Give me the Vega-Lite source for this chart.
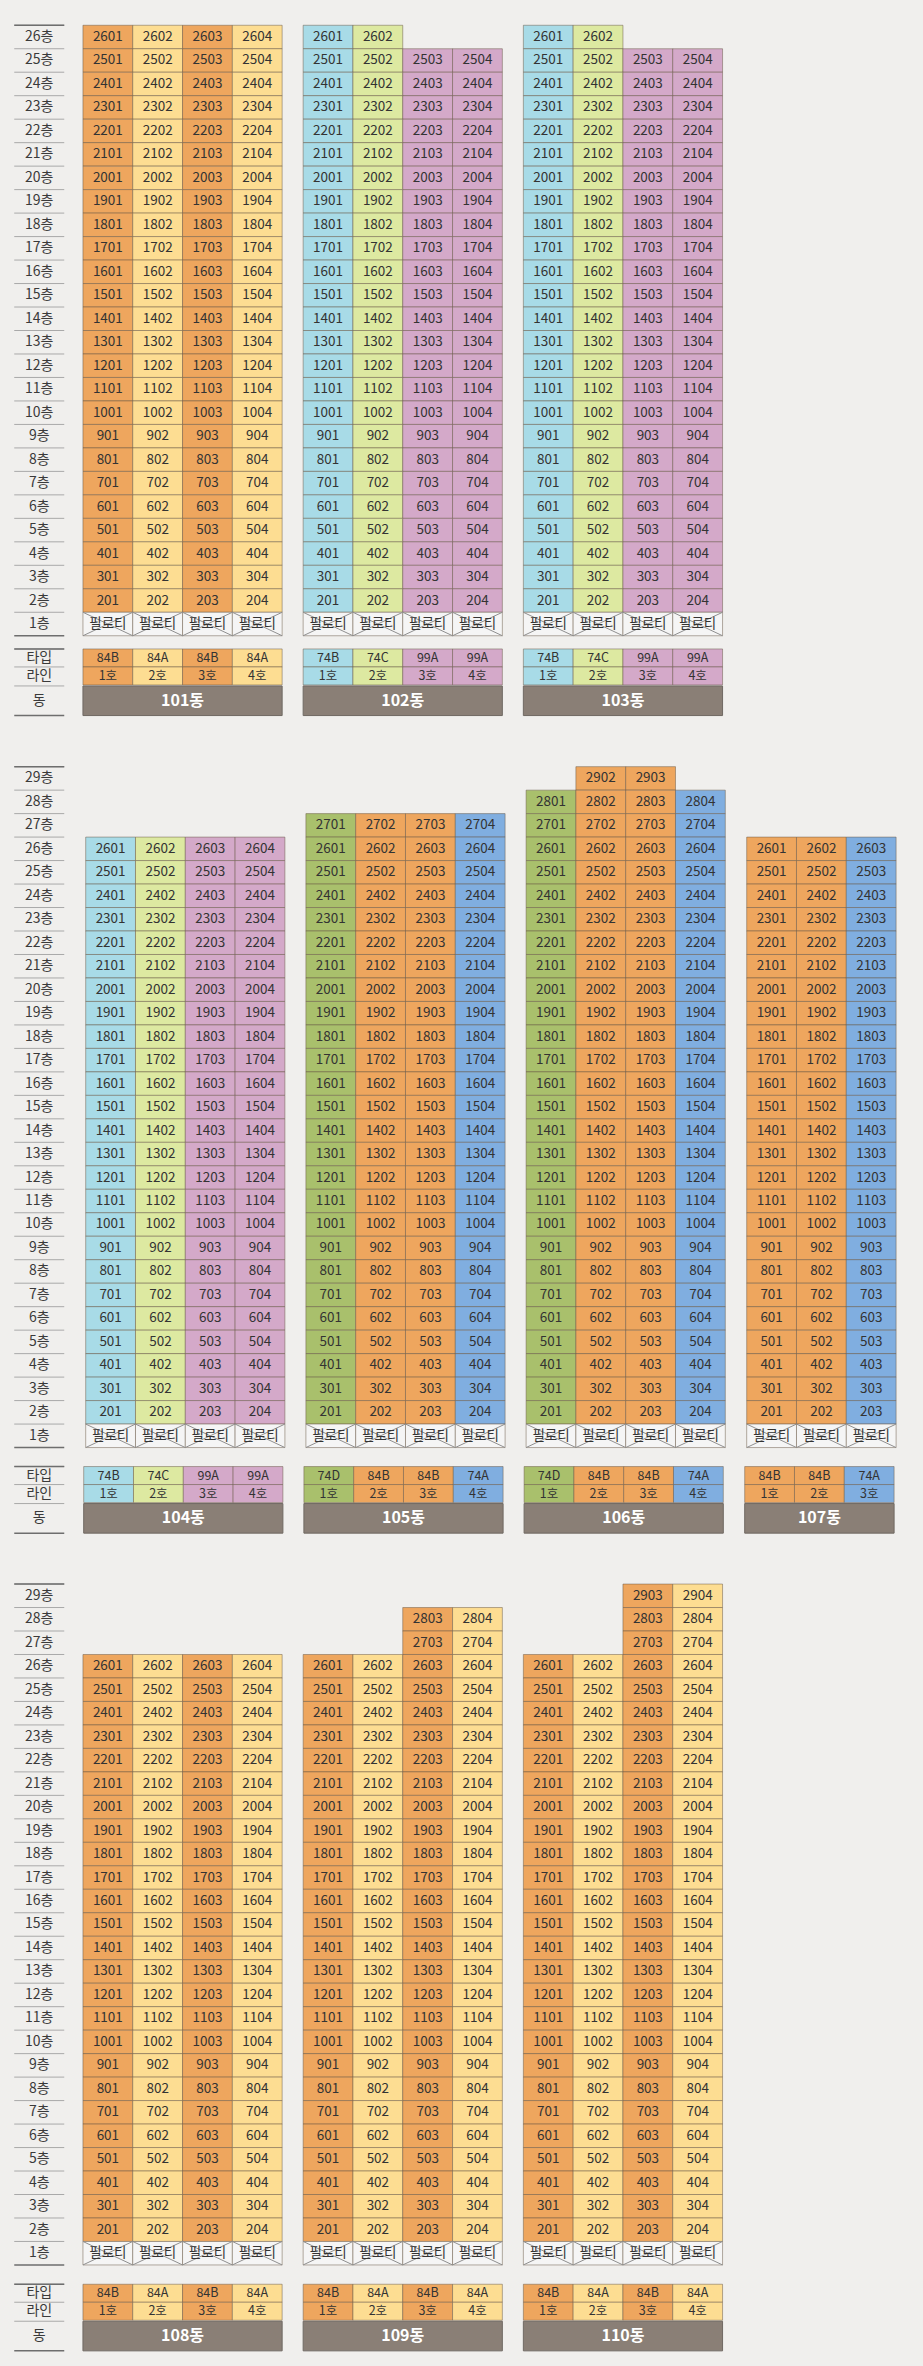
{
"$schema":"https://vega.github.io/schema/vega-lite/v6.json",
"background":"#f0efed",
"padding":{"left":13.25,"top":24.25,"right":29.8,"bottom":25},
"config":{"view":{"stroke":null},"axis":{"disable":true},"legend":{"disable":true},"text":{"font":"Noto Sans CJK KR"}},
"datasets":{
"fl":[{"f":29,"n":"29층"},{"f":28,"n":"28층"},{"f":27,"n":"27층"},{"f":26,"n":"26층"},{"f":25,"n":"25층"},{"f":24,"n":"24층"},{"f":23,"n":"23층"},{"f":22,"n":"22층"},{"f":21,"n":"21층"},{"f":20,"n":"20층"},{"f":19,"n":"19층"},{"f":18,"n":"18층"},{"f":17,"n":"17층"},{"f":16,"n":"16층"},{"f":15,"n":"15층"},{"f":14,"n":"14층"},{"f":13,"n":"13층"},{"f":12,"n":"12층"},{"f":11,"n":"11층"},{"f":10,"n":"10층"},{"f":9,"n":"9층"},{"f":8,"n":"8층"},{"f":7,"n":"7층"},{"f":6,"n":"6층"},{"f":5,"n":"5층"},{"f":4,"n":"4층"},{"f":3,"n":"3층"},{"f":2,"n":"2층"},{"f":1,"n":"1층"}],
"bd":[{"b":101,"n":"101동"},{"b":102,"n":"102동"},{"b":103,"n":"103동"},{"b":104,"n":"104동"},{"b":105,"n":"105동"},{"b":106,"n":"106동"},{"b":107,"n":"107동"},{"b":108,"n":"108동"},{"b":109,"n":"109동"},{"b":110,"n":"110동"}],
"bt":[
{"b":101,"l":1,"t":"84B","h":"1호"},{"b":101,"l":2,"t":"84A","h":"2호"},{"b":101,"l":3,"t":"84B","h":"3호"},{"b":101,"l":4,"t":"84A","h":"4호"},
{"b":102,"l":1,"t":"74B","h":"1호"},{"b":102,"l":2,"t":"74C","h":"2호"},{"b":102,"l":3,"t":"99A","h":"3호"},{"b":102,"l":4,"t":"99A","h":"4호"},
{"b":103,"l":1,"t":"74B","h":"1호"},{"b":103,"l":2,"t":"74C","h":"2호"},{"b":103,"l":3,"t":"99A","h":"3호"},{"b":103,"l":4,"t":"99A","h":"4호"},
{"b":104,"l":1,"t":"74B","h":"1호"},{"b":104,"l":2,"t":"74C","h":"2호"},{"b":104,"l":3,"t":"99A","h":"3호"},{"b":104,"l":4,"t":"99A","h":"4호"},
{"b":105,"l":1,"t":"74D","h":"1호"},{"b":105,"l":2,"t":"84B","h":"2호"},{"b":105,"l":3,"t":"84B","h":"3호"},{"b":105,"l":4,"t":"74A","h":"4호"},
{"b":106,"l":1,"t":"74D","h":"1호"},{"b":106,"l":2,"t":"84B","h":"2호"},{"b":106,"l":3,"t":"84B","h":"3호"},{"b":106,"l":4,"t":"74A","h":"4호"},
{"b":107,"l":1,"t":"84B","h":"1호"},{"b":107,"l":2,"t":"84B","h":"2호"},{"b":107,"l":3,"t":"74A","h":"3호"},
{"b":108,"l":1,"t":"84B","h":"1호"},{"b":108,"l":2,"t":"84A","h":"2호"},{"b":108,"l":3,"t":"84B","h":"3호"},{"b":108,"l":4,"t":"84A","h":"4호"},
{"b":109,"l":1,"t":"84B","h":"1호"},{"b":109,"l":2,"t":"84A","h":"2호"},{"b":109,"l":3,"t":"84B","h":"3호"},{"b":109,"l":4,"t":"84A","h":"4호"},
{"b":110,"l":1,"t":"84B","h":"1호"},{"b":110,"l":2,"t":"84A","h":"2호"},{"b":110,"l":3,"t":"84B","h":"3호"},{"b":110,"l":4,"t":"84A","h":"4호"}
],
"u":[
{"b":101,"f":26,"l":1,"u":2601,"t":"84B"},{"b":101,"f":26,"l":2,"u":2602,"t":"84A"},{"b":101,"f":26,"l":3,"u":2603,"t":"84B"},{"b":101,"f":26,"l":4,"u":2604,"t":"84A"},
{"b":101,"f":25,"l":1,"u":2501,"t":"84B"},{"b":101,"f":25,"l":2,"u":2502,"t":"84A"},{"b":101,"f":25,"l":3,"u":2503,"t":"84B"},{"b":101,"f":25,"l":4,"u":2504,"t":"84A"},
{"b":101,"f":24,"l":1,"u":2401,"t":"84B"},{"b":101,"f":24,"l":2,"u":2402,"t":"84A"},{"b":101,"f":24,"l":3,"u":2403,"t":"84B"},{"b":101,"f":24,"l":4,"u":2404,"t":"84A"},
{"b":101,"f":23,"l":1,"u":2301,"t":"84B"},{"b":101,"f":23,"l":2,"u":2302,"t":"84A"},{"b":101,"f":23,"l":3,"u":2303,"t":"84B"},{"b":101,"f":23,"l":4,"u":2304,"t":"84A"},
{"b":101,"f":22,"l":1,"u":2201,"t":"84B"},{"b":101,"f":22,"l":2,"u":2202,"t":"84A"},{"b":101,"f":22,"l":3,"u":2203,"t":"84B"},{"b":101,"f":22,"l":4,"u":2204,"t":"84A"},
{"b":101,"f":21,"l":1,"u":2101,"t":"84B"},{"b":101,"f":21,"l":2,"u":2102,"t":"84A"},{"b":101,"f":21,"l":3,"u":2103,"t":"84B"},{"b":101,"f":21,"l":4,"u":2104,"t":"84A"},
{"b":101,"f":20,"l":1,"u":2001,"t":"84B"},{"b":101,"f":20,"l":2,"u":2002,"t":"84A"},{"b":101,"f":20,"l":3,"u":2003,"t":"84B"},{"b":101,"f":20,"l":4,"u":2004,"t":"84A"},
{"b":101,"f":19,"l":1,"u":1901,"t":"84B"},{"b":101,"f":19,"l":2,"u":1902,"t":"84A"},{"b":101,"f":19,"l":3,"u":1903,"t":"84B"},{"b":101,"f":19,"l":4,"u":1904,"t":"84A"},
{"b":101,"f":18,"l":1,"u":1801,"t":"84B"},{"b":101,"f":18,"l":2,"u":1802,"t":"84A"},{"b":101,"f":18,"l":3,"u":1803,"t":"84B"},{"b":101,"f":18,"l":4,"u":1804,"t":"84A"},
{"b":101,"f":17,"l":1,"u":1701,"t":"84B"},{"b":101,"f":17,"l":2,"u":1702,"t":"84A"},{"b":101,"f":17,"l":3,"u":1703,"t":"84B"},{"b":101,"f":17,"l":4,"u":1704,"t":"84A"},
{"b":101,"f":16,"l":1,"u":1601,"t":"84B"},{"b":101,"f":16,"l":2,"u":1602,"t":"84A"},{"b":101,"f":16,"l":3,"u":1603,"t":"84B"},{"b":101,"f":16,"l":4,"u":1604,"t":"84A"},
{"b":101,"f":15,"l":1,"u":1501,"t":"84B"},{"b":101,"f":15,"l":2,"u":1502,"t":"84A"},{"b":101,"f":15,"l":3,"u":1503,"t":"84B"},{"b":101,"f":15,"l":4,"u":1504,"t":"84A"},
{"b":101,"f":14,"l":1,"u":1401,"t":"84B"},{"b":101,"f":14,"l":2,"u":1402,"t":"84A"},{"b":101,"f":14,"l":3,"u":1403,"t":"84B"},{"b":101,"f":14,"l":4,"u":1404,"t":"84A"},
{"b":101,"f":13,"l":1,"u":1301,"t":"84B"},{"b":101,"f":13,"l":2,"u":1302,"t":"84A"},{"b":101,"f":13,"l":3,"u":1303,"t":"84B"},{"b":101,"f":13,"l":4,"u":1304,"t":"84A"},
{"b":101,"f":12,"l":1,"u":1201,"t":"84B"},{"b":101,"f":12,"l":2,"u":1202,"t":"84A"},{"b":101,"f":12,"l":3,"u":1203,"t":"84B"},{"b":101,"f":12,"l":4,"u":1204,"t":"84A"},
{"b":101,"f":11,"l":1,"u":1101,"t":"84B"},{"b":101,"f":11,"l":2,"u":1102,"t":"84A"},{"b":101,"f":11,"l":3,"u":1103,"t":"84B"},{"b":101,"f":11,"l":4,"u":1104,"t":"84A"},
{"b":101,"f":10,"l":1,"u":1001,"t":"84B"},{"b":101,"f":10,"l":2,"u":1002,"t":"84A"},{"b":101,"f":10,"l":3,"u":1003,"t":"84B"},{"b":101,"f":10,"l":4,"u":1004,"t":"84A"},
{"b":101,"f":9,"l":1,"u":901,"t":"84B"},{"b":101,"f":9,"l":2,"u":902,"t":"84A"},{"b":101,"f":9,"l":3,"u":903,"t":"84B"},{"b":101,"f":9,"l":4,"u":904,"t":"84A"},
{"b":101,"f":8,"l":1,"u":801,"t":"84B"},{"b":101,"f":8,"l":2,"u":802,"t":"84A"},{"b":101,"f":8,"l":3,"u":803,"t":"84B"},{"b":101,"f":8,"l":4,"u":804,"t":"84A"},
{"b":101,"f":7,"l":1,"u":701,"t":"84B"},{"b":101,"f":7,"l":2,"u":702,"t":"84A"},{"b":101,"f":7,"l":3,"u":703,"t":"84B"},{"b":101,"f":7,"l":4,"u":704,"t":"84A"},
{"b":101,"f":6,"l":1,"u":601,"t":"84B"},{"b":101,"f":6,"l":2,"u":602,"t":"84A"},{"b":101,"f":6,"l":3,"u":603,"t":"84B"},{"b":101,"f":6,"l":4,"u":604,"t":"84A"},
{"b":101,"f":5,"l":1,"u":501,"t":"84B"},{"b":101,"f":5,"l":2,"u":502,"t":"84A"},{"b":101,"f":5,"l":3,"u":503,"t":"84B"},{"b":101,"f":5,"l":4,"u":504,"t":"84A"},
{"b":101,"f":4,"l":1,"u":401,"t":"84B"},{"b":101,"f":4,"l":2,"u":402,"t":"84A"},{"b":101,"f":4,"l":3,"u":403,"t":"84B"},{"b":101,"f":4,"l":4,"u":404,"t":"84A"},
{"b":101,"f":3,"l":1,"u":301,"t":"84B"},{"b":101,"f":3,"l":2,"u":302,"t":"84A"},{"b":101,"f":3,"l":3,"u":303,"t":"84B"},{"b":101,"f":3,"l":4,"u":304,"t":"84A"},
{"b":101,"f":2,"l":1,"u":201,"t":"84B"},{"b":101,"f":2,"l":2,"u":202,"t":"84A"},{"b":101,"f":2,"l":3,"u":203,"t":"84B"},{"b":101,"f":2,"l":4,"u":204,"t":"84A"},
{"b":101,"f":1,"l":1,"u":"필로티","t":"필로티"},{"b":101,"f":1,"l":2,"u":"필로티","t":"필로티"},{"b":101,"f":1,"l":3,"u":"필로티","t":"필로티"},{"b":101,"f":1,"l":4,"u":"필로티","t":"필로티"},
{"b":102,"f":26,"l":1,"u":2601,"t":"74B"},{"b":102,"f":26,"l":2,"u":2602,"t":"74C"},
{"b":102,"f":25,"l":1,"u":2501,"t":"74B"},{"b":102,"f":25,"l":2,"u":2502,"t":"74C"},{"b":102,"f":25,"l":3,"u":2503,"t":"99A"},{"b":102,"f":25,"l":4,"u":2504,"t":"99A"},
{"b":102,"f":24,"l":1,"u":2401,"t":"74B"},{"b":102,"f":24,"l":2,"u":2402,"t":"74C"},{"b":102,"f":24,"l":3,"u":2403,"t":"99A"},{"b":102,"f":24,"l":4,"u":2404,"t":"99A"},
{"b":102,"f":23,"l":1,"u":2301,"t":"74B"},{"b":102,"f":23,"l":2,"u":2302,"t":"74C"},{"b":102,"f":23,"l":3,"u":2303,"t":"99A"},{"b":102,"f":23,"l":4,"u":2304,"t":"99A"},
{"b":102,"f":22,"l":1,"u":2201,"t":"74B"},{"b":102,"f":22,"l":2,"u":2202,"t":"74C"},{"b":102,"f":22,"l":3,"u":2203,"t":"99A"},{"b":102,"f":22,"l":4,"u":2204,"t":"99A"},
{"b":102,"f":21,"l":1,"u":2101,"t":"74B"},{"b":102,"f":21,"l":2,"u":2102,"t":"74C"},{"b":102,"f":21,"l":3,"u":2103,"t":"99A"},{"b":102,"f":21,"l":4,"u":2104,"t":"99A"},
{"b":102,"f":20,"l":1,"u":2001,"t":"74B"},{"b":102,"f":20,"l":2,"u":2002,"t":"74C"},{"b":102,"f":20,"l":3,"u":2003,"t":"99A"},{"b":102,"f":20,"l":4,"u":2004,"t":"99A"},
{"b":102,"f":19,"l":1,"u":1901,"t":"74B"},{"b":102,"f":19,"l":2,"u":1902,"t":"74C"},{"b":102,"f":19,"l":3,"u":1903,"t":"99A"},{"b":102,"f":19,"l":4,"u":1904,"t":"99A"},
{"b":102,"f":18,"l":1,"u":1801,"t":"74B"},{"b":102,"f":18,"l":2,"u":1802,"t":"74C"},{"b":102,"f":18,"l":3,"u":1803,"t":"99A"},{"b":102,"f":18,"l":4,"u":1804,"t":"99A"},
{"b":102,"f":17,"l":1,"u":1701,"t":"74B"},{"b":102,"f":17,"l":2,"u":1702,"t":"74C"},{"b":102,"f":17,"l":3,"u":1703,"t":"99A"},{"b":102,"f":17,"l":4,"u":1704,"t":"99A"},
{"b":102,"f":16,"l":1,"u":1601,"t":"74B"},{"b":102,"f":16,"l":2,"u":1602,"t":"74C"},{"b":102,"f":16,"l":3,"u":1603,"t":"99A"},{"b":102,"f":16,"l":4,"u":1604,"t":"99A"},
{"b":102,"f":15,"l":1,"u":1501,"t":"74B"},{"b":102,"f":15,"l":2,"u":1502,"t":"74C"},{"b":102,"f":15,"l":3,"u":1503,"t":"99A"},{"b":102,"f":15,"l":4,"u":1504,"t":"99A"},
{"b":102,"f":14,"l":1,"u":1401,"t":"74B"},{"b":102,"f":14,"l":2,"u":1402,"t":"74C"},{"b":102,"f":14,"l":3,"u":1403,"t":"99A"},{"b":102,"f":14,"l":4,"u":1404,"t":"99A"},
{"b":102,"f":13,"l":1,"u":1301,"t":"74B"},{"b":102,"f":13,"l":2,"u":1302,"t":"74C"},{"b":102,"f":13,"l":3,"u":1303,"t":"99A"},{"b":102,"f":13,"l":4,"u":1304,"t":"99A"},
{"b":102,"f":12,"l":1,"u":1201,"t":"74B"},{"b":102,"f":12,"l":2,"u":1202,"t":"74C"},{"b":102,"f":12,"l":3,"u":1203,"t":"99A"},{"b":102,"f":12,"l":4,"u":1204,"t":"99A"},
{"b":102,"f":11,"l":1,"u":1101,"t":"74B"},{"b":102,"f":11,"l":2,"u":1102,"t":"74C"},{"b":102,"f":11,"l":3,"u":1103,"t":"99A"},{"b":102,"f":11,"l":4,"u":1104,"t":"99A"},
{"b":102,"f":10,"l":1,"u":1001,"t":"74B"},{"b":102,"f":10,"l":2,"u":1002,"t":"74C"},{"b":102,"f":10,"l":3,"u":1003,"t":"99A"},{"b":102,"f":10,"l":4,"u":1004,"t":"99A"},
{"b":102,"f":9,"l":1,"u":901,"t":"74B"},{"b":102,"f":9,"l":2,"u":902,"t":"74C"},{"b":102,"f":9,"l":3,"u":903,"t":"99A"},{"b":102,"f":9,"l":4,"u":904,"t":"99A"},
{"b":102,"f":8,"l":1,"u":801,"t":"74B"},{"b":102,"f":8,"l":2,"u":802,"t":"74C"},{"b":102,"f":8,"l":3,"u":803,"t":"99A"},{"b":102,"f":8,"l":4,"u":804,"t":"99A"},
{"b":102,"f":7,"l":1,"u":701,"t":"74B"},{"b":102,"f":7,"l":2,"u":702,"t":"74C"},{"b":102,"f":7,"l":3,"u":703,"t":"99A"},{"b":102,"f":7,"l":4,"u":704,"t":"99A"},
{"b":102,"f":6,"l":1,"u":601,"t":"74B"},{"b":102,"f":6,"l":2,"u":602,"t":"74C"},{"b":102,"f":6,"l":3,"u":603,"t":"99A"},{"b":102,"f":6,"l":4,"u":604,"t":"99A"},
{"b":102,"f":5,"l":1,"u":501,"t":"74B"},{"b":102,"f":5,"l":2,"u":502,"t":"74C"},{"b":102,"f":5,"l":3,"u":503,"t":"99A"},{"b":102,"f":5,"l":4,"u":504,"t":"99A"},
{"b":102,"f":4,"l":1,"u":401,"t":"74B"},{"b":102,"f":4,"l":2,"u":402,"t":"74C"},{"b":102,"f":4,"l":3,"u":403,"t":"99A"},{"b":102,"f":4,"l":4,"u":404,"t":"99A"},
{"b":102,"f":3,"l":1,"u":301,"t":"74B"},{"b":102,"f":3,"l":2,"u":302,"t":"74C"},{"b":102,"f":3,"l":3,"u":303,"t":"99A"},{"b":102,"f":3,"l":4,"u":304,"t":"99A"},
{"b":102,"f":2,"l":1,"u":201,"t":"74B"},{"b":102,"f":2,"l":2,"u":202,"t":"74C"},{"b":102,"f":2,"l":3,"u":203,"t":"99A"},{"b":102,"f":2,"l":4,"u":204,"t":"99A"},
{"b":102,"f":1,"l":1,"u":"필로티","t":"필로티"},{"b":102,"f":1,"l":2,"u":"필로티","t":"필로티"},{"b":102,"f":1,"l":3,"u":"필로티","t":"필로티"},{"b":102,"f":1,"l":4,"u":"필로티","t":"필로티"},
{"b":103,"f":26,"l":1,"u":2601,"t":"74B"},{"b":103,"f":26,"l":2,"u":2602,"t":"74C"},
{"b":103,"f":25,"l":1,"u":2501,"t":"74B"},{"b":103,"f":25,"l":2,"u":2502,"t":"74C"},{"b":103,"f":25,"l":3,"u":2503,"t":"99A"},{"b":103,"f":25,"l":4,"u":2504,"t":"99A"},
{"b":103,"f":24,"l":1,"u":2401,"t":"74B"},{"b":103,"f":24,"l":2,"u":2402,"t":"74C"},{"b":103,"f":24,"l":3,"u":2403,"t":"99A"},{"b":103,"f":24,"l":4,"u":2404,"t":"99A"},
{"b":103,"f":23,"l":1,"u":2301,"t":"74B"},{"b":103,"f":23,"l":2,"u":2302,"t":"74C"},{"b":103,"f":23,"l":3,"u":2303,"t":"99A"},{"b":103,"f":23,"l":4,"u":2304,"t":"99A"},
{"b":103,"f":22,"l":1,"u":2201,"t":"74B"},{"b":103,"f":22,"l":2,"u":2202,"t":"74C"},{"b":103,"f":22,"l":3,"u":2203,"t":"99A"},{"b":103,"f":22,"l":4,"u":2204,"t":"99A"},
{"b":103,"f":21,"l":1,"u":2101,"t":"74B"},{"b":103,"f":21,"l":2,"u":2102,"t":"74C"},{"b":103,"f":21,"l":3,"u":2103,"t":"99A"},{"b":103,"f":21,"l":4,"u":2104,"t":"99A"},
{"b":103,"f":20,"l":1,"u":2001,"t":"74B"},{"b":103,"f":20,"l":2,"u":2002,"t":"74C"},{"b":103,"f":20,"l":3,"u":2003,"t":"99A"},{"b":103,"f":20,"l":4,"u":2004,"t":"99A"},
{"b":103,"f":19,"l":1,"u":1901,"t":"74B"},{"b":103,"f":19,"l":2,"u":1902,"t":"74C"},{"b":103,"f":19,"l":3,"u":1903,"t":"99A"},{"b":103,"f":19,"l":4,"u":1904,"t":"99A"},
{"b":103,"f":18,"l":1,"u":1801,"t":"74B"},{"b":103,"f":18,"l":2,"u":1802,"t":"74C"},{"b":103,"f":18,"l":3,"u":1803,"t":"99A"},{"b":103,"f":18,"l":4,"u":1804,"t":"99A"},
{"b":103,"f":17,"l":1,"u":1701,"t":"74B"},{"b":103,"f":17,"l":2,"u":1702,"t":"74C"},{"b":103,"f":17,"l":3,"u":1703,"t":"99A"},{"b":103,"f":17,"l":4,"u":1704,"t":"99A"},
{"b":103,"f":16,"l":1,"u":1601,"t":"74B"},{"b":103,"f":16,"l":2,"u":1602,"t":"74C"},{"b":103,"f":16,"l":3,"u":1603,"t":"99A"},{"b":103,"f":16,"l":4,"u":1604,"t":"99A"},
{"b":103,"f":15,"l":1,"u":1501,"t":"74B"},{"b":103,"f":15,"l":2,"u":1502,"t":"74C"},{"b":103,"f":15,"l":3,"u":1503,"t":"99A"},{"b":103,"f":15,"l":4,"u":1504,"t":"99A"},
{"b":103,"f":14,"l":1,"u":1401,"t":"74B"},{"b":103,"f":14,"l":2,"u":1402,"t":"74C"},{"b":103,"f":14,"l":3,"u":1403,"t":"99A"},{"b":103,"f":14,"l":4,"u":1404,"t":"99A"},
{"b":103,"f":13,"l":1,"u":1301,"t":"74B"},{"b":103,"f":13,"l":2,"u":1302,"t":"74C"},{"b":103,"f":13,"l":3,"u":1303,"t":"99A"},{"b":103,"f":13,"l":4,"u":1304,"t":"99A"},
{"b":103,"f":12,"l":1,"u":1201,"t":"74B"},{"b":103,"f":12,"l":2,"u":1202,"t":"74C"},{"b":103,"f":12,"l":3,"u":1203,"t":"99A"},{"b":103,"f":12,"l":4,"u":1204,"t":"99A"},
{"b":103,"f":11,"l":1,"u":1101,"t":"74B"},{"b":103,"f":11,"l":2,"u":1102,"t":"74C"},{"b":103,"f":11,"l":3,"u":1103,"t":"99A"},{"b":103,"f":11,"l":4,"u":1104,"t":"99A"},
{"b":103,"f":10,"l":1,"u":1001,"t":"74B"},{"b":103,"f":10,"l":2,"u":1002,"t":"74C"},{"b":103,"f":10,"l":3,"u":1003,"t":"99A"},{"b":103,"f":10,"l":4,"u":1004,"t":"99A"},
{"b":103,"f":9,"l":1,"u":901,"t":"74B"},{"b":103,"f":9,"l":2,"u":902,"t":"74C"},{"b":103,"f":9,"l":3,"u":903,"t":"99A"},{"b":103,"f":9,"l":4,"u":904,"t":"99A"},
{"b":103,"f":8,"l":1,"u":801,"t":"74B"},{"b":103,"f":8,"l":2,"u":802,"t":"74C"},{"b":103,"f":8,"l":3,"u":803,"t":"99A"},{"b":103,"f":8,"l":4,"u":804,"t":"99A"},
{"b":103,"f":7,"l":1,"u":701,"t":"74B"},{"b":103,"f":7,"l":2,"u":702,"t":"74C"},{"b":103,"f":7,"l":3,"u":703,"t":"99A"},{"b":103,"f":7,"l":4,"u":704,"t":"99A"},
{"b":103,"f":6,"l":1,"u":601,"t":"74B"},{"b":103,"f":6,"l":2,"u":602,"t":"74C"},{"b":103,"f":6,"l":3,"u":603,"t":"99A"},{"b":103,"f":6,"l":4,"u":604,"t":"99A"},
{"b":103,"f":5,"l":1,"u":501,"t":"74B"},{"b":103,"f":5,"l":2,"u":502,"t":"74C"},{"b":103,"f":5,"l":3,"u":503,"t":"99A"},{"b":103,"f":5,"l":4,"u":504,"t":"99A"},
{"b":103,"f":4,"l":1,"u":401,"t":"74B"},{"b":103,"f":4,"l":2,"u":402,"t":"74C"},{"b":103,"f":4,"l":3,"u":403,"t":"99A"},{"b":103,"f":4,"l":4,"u":404,"t":"99A"},
{"b":103,"f":3,"l":1,"u":301,"t":"74B"},{"b":103,"f":3,"l":2,"u":302,"t":"74C"},{"b":103,"f":3,"l":3,"u":303,"t":"99A"},{"b":103,"f":3,"l":4,"u":304,"t":"99A"},
{"b":103,"f":2,"l":1,"u":201,"t":"74B"},{"b":103,"f":2,"l":2,"u":202,"t":"74C"},{"b":103,"f":2,"l":3,"u":203,"t":"99A"},{"b":103,"f":2,"l":4,"u":204,"t":"99A"},
{"b":103,"f":1,"l":1,"u":"필로티","t":"필로티"},{"b":103,"f":1,"l":2,"u":"필로티","t":"필로티"},{"b":103,"f":1,"l":3,"u":"필로티","t":"필로티"},{"b":103,"f":1,"l":4,"u":"필로티","t":"필로티"},
{"b":104,"f":26,"l":1,"u":2601,"t":"74B"},{"b":104,"f":26,"l":2,"u":2602,"t":"74C"},{"b":104,"f":26,"l":3,"u":2603,"t":"99A"},{"b":104,"f":26,"l":4,"u":2604,"t":"99A"},
{"b":104,"f":25,"l":1,"u":2501,"t":"74B"},{"b":104,"f":25,"l":2,"u":2502,"t":"74C"},{"b":104,"f":25,"l":3,"u":2503,"t":"99A"},{"b":104,"f":25,"l":4,"u":2504,"t":"99A"},
{"b":104,"f":24,"l":1,"u":2401,"t":"74B"},{"b":104,"f":24,"l":2,"u":2402,"t":"74C"},{"b":104,"f":24,"l":3,"u":2403,"t":"99A"},{"b":104,"f":24,"l":4,"u":2404,"t":"99A"},
{"b":104,"f":23,"l":1,"u":2301,"t":"74B"},{"b":104,"f":23,"l":2,"u":2302,"t":"74C"},{"b":104,"f":23,"l":3,"u":2303,"t":"99A"},{"b":104,"f":23,"l":4,"u":2304,"t":"99A"},
{"b":104,"f":22,"l":1,"u":2201,"t":"74B"},{"b":104,"f":22,"l":2,"u":2202,"t":"74C"},{"b":104,"f":22,"l":3,"u":2203,"t":"99A"},{"b":104,"f":22,"l":4,"u":2204,"t":"99A"},
{"b":104,"f":21,"l":1,"u":2101,"t":"74B"},{"b":104,"f":21,"l":2,"u":2102,"t":"74C"},{"b":104,"f":21,"l":3,"u":2103,"t":"99A"},{"b":104,"f":21,"l":4,"u":2104,"t":"99A"},
{"b":104,"f":20,"l":1,"u":2001,"t":"74B"},{"b":104,"f":20,"l":2,"u":2002,"t":"74C"},{"b":104,"f":20,"l":3,"u":2003,"t":"99A"},{"b":104,"f":20,"l":4,"u":2004,"t":"99A"},
{"b":104,"f":19,"l":1,"u":1901,"t":"74B"},{"b":104,"f":19,"l":2,"u":1902,"t":"74C"},{"b":104,"f":19,"l":3,"u":1903,"t":"99A"},{"b":104,"f":19,"l":4,"u":1904,"t":"99A"},
{"b":104,"f":18,"l":1,"u":1801,"t":"74B"},{"b":104,"f":18,"l":2,"u":1802,"t":"74C"},{"b":104,"f":18,"l":3,"u":1803,"t":"99A"},{"b":104,"f":18,"l":4,"u":1804,"t":"99A"},
{"b":104,"f":17,"l":1,"u":1701,"t":"74B"},{"b":104,"f":17,"l":2,"u":1702,"t":"74C"},{"b":104,"f":17,"l":3,"u":1703,"t":"99A"},{"b":104,"f":17,"l":4,"u":1704,"t":"99A"},
{"b":104,"f":16,"l":1,"u":1601,"t":"74B"},{"b":104,"f":16,"l":2,"u":1602,"t":"74C"},{"b":104,"f":16,"l":3,"u":1603,"t":"99A"},{"b":104,"f":16,"l":4,"u":1604,"t":"99A"},
{"b":104,"f":15,"l":1,"u":1501,"t":"74B"},{"b":104,"f":15,"l":2,"u":1502,"t":"74C"},{"b":104,"f":15,"l":3,"u":1503,"t":"99A"},{"b":104,"f":15,"l":4,"u":1504,"t":"99A"},
{"b":104,"f":14,"l":1,"u":1401,"t":"74B"},{"b":104,"f":14,"l":2,"u":1402,"t":"74C"},{"b":104,"f":14,"l":3,"u":1403,"t":"99A"},{"b":104,"f":14,"l":4,"u":1404,"t":"99A"},
{"b":104,"f":13,"l":1,"u":1301,"t":"74B"},{"b":104,"f":13,"l":2,"u":1302,"t":"74C"},{"b":104,"f":13,"l":3,"u":1303,"t":"99A"},{"b":104,"f":13,"l":4,"u":1304,"t":"99A"},
{"b":104,"f":12,"l":1,"u":1201,"t":"74B"},{"b":104,"f":12,"l":2,"u":1202,"t":"74C"},{"b":104,"f":12,"l":3,"u":1203,"t":"99A"},{"b":104,"f":12,"l":4,"u":1204,"t":"99A"},
{"b":104,"f":11,"l":1,"u":1101,"t":"74B"},{"b":104,"f":11,"l":2,"u":1102,"t":"74C"},{"b":104,"f":11,"l":3,"u":1103,"t":"99A"},{"b":104,"f":11,"l":4,"u":1104,"t":"99A"},
{"b":104,"f":10,"l":1,"u":1001,"t":"74B"},{"b":104,"f":10,"l":2,"u":1002,"t":"74C"},{"b":104,"f":10,"l":3,"u":1003,"t":"99A"},{"b":104,"f":10,"l":4,"u":1004,"t":"99A"},
{"b":104,"f":9,"l":1,"u":901,"t":"74B"},{"b":104,"f":9,"l":2,"u":902,"t":"74C"},{"b":104,"f":9,"l":3,"u":903,"t":"99A"},{"b":104,"f":9,"l":4,"u":904,"t":"99A"},
{"b":104,"f":8,"l":1,"u":801,"t":"74B"},{"b":104,"f":8,"l":2,"u":802,"t":"74C"},{"b":104,"f":8,"l":3,"u":803,"t":"99A"},{"b":104,"f":8,"l":4,"u":804,"t":"99A"},
{"b":104,"f":7,"l":1,"u":701,"t":"74B"},{"b":104,"f":7,"l":2,"u":702,"t":"74C"},{"b":104,"f":7,"l":3,"u":703,"t":"99A"},{"b":104,"f":7,"l":4,"u":704,"t":"99A"},
{"b":104,"f":6,"l":1,"u":601,"t":"74B"},{"b":104,"f":6,"l":2,"u":602,"t":"74C"},{"b":104,"f":6,"l":3,"u":603,"t":"99A"},{"b":104,"f":6,"l":4,"u":604,"t":"99A"},
{"b":104,"f":5,"l":1,"u":501,"t":"74B"},{"b":104,"f":5,"l":2,"u":502,"t":"74C"},{"b":104,"f":5,"l":3,"u":503,"t":"99A"},{"b":104,"f":5,"l":4,"u":504,"t":"99A"},
{"b":104,"f":4,"l":1,"u":401,"t":"74B"},{"b":104,"f":4,"l":2,"u":402,"t":"74C"},{"b":104,"f":4,"l":3,"u":403,"t":"99A"},{"b":104,"f":4,"l":4,"u":404,"t":"99A"},
{"b":104,"f":3,"l":1,"u":301,"t":"74B"},{"b":104,"f":3,"l":2,"u":302,"t":"74C"},{"b":104,"f":3,"l":3,"u":303,"t":"99A"},{"b":104,"f":3,"l":4,"u":304,"t":"99A"},
{"b":104,"f":2,"l":1,"u":201,"t":"74B"},{"b":104,"f":2,"l":2,"u":202,"t":"74C"},{"b":104,"f":2,"l":3,"u":203,"t":"99A"},{"b":104,"f":2,"l":4,"u":204,"t":"99A"},
{"b":104,"f":1,"l":1,"u":"필로티","t":"필로티"},{"b":104,"f":1,"l":2,"u":"필로티","t":"필로티"},{"b":104,"f":1,"l":3,"u":"필로티","t":"필로티"},{"b":104,"f":1,"l":4,"u":"필로티","t":"필로티"},
{"b":105,"f":27,"l":1,"u":2701,"t":"74D"},{"b":105,"f":27,"l":2,"u":2702,"t":"84B"},{"b":105,"f":27,"l":3,"u":2703,"t":"84B"},{"b":105,"f":27,"l":4,"u":2704,"t":"74A"},
{"b":105,"f":26,"l":1,"u":2601,"t":"74D"},{"b":105,"f":26,"l":2,"u":2602,"t":"84B"},{"b":105,"f":26,"l":3,"u":2603,"t":"84B"},{"b":105,"f":26,"l":4,"u":2604,"t":"74A"},
{"b":105,"f":25,"l":1,"u":2501,"t":"74D"},{"b":105,"f":25,"l":2,"u":2502,"t":"84B"},{"b":105,"f":25,"l":3,"u":2503,"t":"84B"},{"b":105,"f":25,"l":4,"u":2504,"t":"74A"},
{"b":105,"f":24,"l":1,"u":2401,"t":"74D"},{"b":105,"f":24,"l":2,"u":2402,"t":"84B"},{"b":105,"f":24,"l":3,"u":2403,"t":"84B"},{"b":105,"f":24,"l":4,"u":2404,"t":"74A"},
{"b":105,"f":23,"l":1,"u":2301,"t":"74D"},{"b":105,"f":23,"l":2,"u":2302,"t":"84B"},{"b":105,"f":23,"l":3,"u":2303,"t":"84B"},{"b":105,"f":23,"l":4,"u":2304,"t":"74A"},
{"b":105,"f":22,"l":1,"u":2201,"t":"74D"},{"b":105,"f":22,"l":2,"u":2202,"t":"84B"},{"b":105,"f":22,"l":3,"u":2203,"t":"84B"},{"b":105,"f":22,"l":4,"u":2204,"t":"74A"},
{"b":105,"f":21,"l":1,"u":2101,"t":"74D"},{"b":105,"f":21,"l":2,"u":2102,"t":"84B"},{"b":105,"f":21,"l":3,"u":2103,"t":"84B"},{"b":105,"f":21,"l":4,"u":2104,"t":"74A"},
{"b":105,"f":20,"l":1,"u":2001,"t":"74D"},{"b":105,"f":20,"l":2,"u":2002,"t":"84B"},{"b":105,"f":20,"l":3,"u":2003,"t":"84B"},{"b":105,"f":20,"l":4,"u":2004,"t":"74A"},
{"b":105,"f":19,"l":1,"u":1901,"t":"74D"},{"b":105,"f":19,"l":2,"u":1902,"t":"84B"},{"b":105,"f":19,"l":3,"u":1903,"t":"84B"},{"b":105,"f":19,"l":4,"u":1904,"t":"74A"},
{"b":105,"f":18,"l":1,"u":1801,"t":"74D"},{"b":105,"f":18,"l":2,"u":1802,"t":"84B"},{"b":105,"f":18,"l":3,"u":1803,"t":"84B"},{"b":105,"f":18,"l":4,"u":1804,"t":"74A"},
{"b":105,"f":17,"l":1,"u":1701,"t":"74D"},{"b":105,"f":17,"l":2,"u":1702,"t":"84B"},{"b":105,"f":17,"l":3,"u":1703,"t":"84B"},{"b":105,"f":17,"l":4,"u":1704,"t":"74A"},
{"b":105,"f":16,"l":1,"u":1601,"t":"74D"},{"b":105,"f":16,"l":2,"u":1602,"t":"84B"},{"b":105,"f":16,"l":3,"u":1603,"t":"84B"},{"b":105,"f":16,"l":4,"u":1604,"t":"74A"},
{"b":105,"f":15,"l":1,"u":1501,"t":"74D"},{"b":105,"f":15,"l":2,"u":1502,"t":"84B"},{"b":105,"f":15,"l":3,"u":1503,"t":"84B"},{"b":105,"f":15,"l":4,"u":1504,"t":"74A"},
{"b":105,"f":14,"l":1,"u":1401,"t":"74D"},{"b":105,"f":14,"l":2,"u":1402,"t":"84B"},{"b":105,"f":14,"l":3,"u":1403,"t":"84B"},{"b":105,"f":14,"l":4,"u":1404,"t":"74A"},
{"b":105,"f":13,"l":1,"u":1301,"t":"74D"},{"b":105,"f":13,"l":2,"u":1302,"t":"84B"},{"b":105,"f":13,"l":3,"u":1303,"t":"84B"},{"b":105,"f":13,"l":4,"u":1304,"t":"74A"},
{"b":105,"f":12,"l":1,"u":1201,"t":"74D"},{"b":105,"f":12,"l":2,"u":1202,"t":"84B"},{"b":105,"f":12,"l":3,"u":1203,"t":"84B"},{"b":105,"f":12,"l":4,"u":1204,"t":"74A"},
{"b":105,"f":11,"l":1,"u":1101,"t":"74D"},{"b":105,"f":11,"l":2,"u":1102,"t":"84B"},{"b":105,"f":11,"l":3,"u":1103,"t":"84B"},{"b":105,"f":11,"l":4,"u":1104,"t":"74A"},
{"b":105,"f":10,"l":1,"u":1001,"t":"74D"},{"b":105,"f":10,"l":2,"u":1002,"t":"84B"},{"b":105,"f":10,"l":3,"u":1003,"t":"84B"},{"b":105,"f":10,"l":4,"u":1004,"t":"74A"},
{"b":105,"f":9,"l":1,"u":901,"t":"74D"},{"b":105,"f":9,"l":2,"u":902,"t":"84B"},{"b":105,"f":9,"l":3,"u":903,"t":"84B"},{"b":105,"f":9,"l":4,"u":904,"t":"74A"},
{"b":105,"f":8,"l":1,"u":801,"t":"74D"},{"b":105,"f":8,"l":2,"u":802,"t":"84B"},{"b":105,"f":8,"l":3,"u":803,"t":"84B"},{"b":105,"f":8,"l":4,"u":804,"t":"74A"},
{"b":105,"f":7,"l":1,"u":701,"t":"74D"},{"b":105,"f":7,"l":2,"u":702,"t":"84B"},{"b":105,"f":7,"l":3,"u":703,"t":"84B"},{"b":105,"f":7,"l":4,"u":704,"t":"74A"},
{"b":105,"f":6,"l":1,"u":601,"t":"74D"},{"b":105,"f":6,"l":2,"u":602,"t":"84B"},{"b":105,"f":6,"l":3,"u":603,"t":"84B"},{"b":105,"f":6,"l":4,"u":604,"t":"74A"},
{"b":105,"f":5,"l":1,"u":501,"t":"74D"},{"b":105,"f":5,"l":2,"u":502,"t":"84B"},{"b":105,"f":5,"l":3,"u":503,"t":"84B"},{"b":105,"f":5,"l":4,"u":504,"t":"74A"},
{"b":105,"f":4,"l":1,"u":401,"t":"74D"},{"b":105,"f":4,"l":2,"u":402,"t":"84B"},{"b":105,"f":4,"l":3,"u":403,"t":"84B"},{"b":105,"f":4,"l":4,"u":404,"t":"74A"},
{"b":105,"f":3,"l":1,"u":301,"t":"74D"},{"b":105,"f":3,"l":2,"u":302,"t":"84B"},{"b":105,"f":3,"l":3,"u":303,"t":"84B"},{"b":105,"f":3,"l":4,"u":304,"t":"74A"},
{"b":105,"f":2,"l":1,"u":201,"t":"74D"},{"b":105,"f":2,"l":2,"u":202,"t":"84B"},{"b":105,"f":2,"l":3,"u":203,"t":"84B"},{"b":105,"f":2,"l":4,"u":204,"t":"74A"},
{"b":105,"f":1,"l":1,"u":"필로티","t":"필로티"},{"b":105,"f":1,"l":2,"u":"필로티","t":"필로티"},{"b":105,"f":1,"l":3,"u":"필로티","t":"필로티"},{"b":105,"f":1,"l":4,"u":"필로티","t":"필로티"},
{"b":106,"f":29,"l":2,"u":2902,"t":"84B"},{"b":106,"f":29,"l":3,"u":2903,"t":"84B"},
{"b":106,"f":28,"l":1,"u":2801,"t":"74D"},{"b":106,"f":28,"l":2,"u":2802,"t":"84B"},{"b":106,"f":28,"l":3,"u":2803,"t":"84B"},{"b":106,"f":28,"l":4,"u":2804,"t":"74A"},
{"b":106,"f":27,"l":1,"u":2701,"t":"74D"},{"b":106,"f":27,"l":2,"u":2702,"t":"84B"},{"b":106,"f":27,"l":3,"u":2703,"t":"84B"},{"b":106,"f":27,"l":4,"u":2704,"t":"74A"},
{"b":106,"f":26,"l":1,"u":2601,"t":"74D"},{"b":106,"f":26,"l":2,"u":2602,"t":"84B"},{"b":106,"f":26,"l":3,"u":2603,"t":"84B"},{"b":106,"f":26,"l":4,"u":2604,"t":"74A"},
{"b":106,"f":25,"l":1,"u":2501,"t":"74D"},{"b":106,"f":25,"l":2,"u":2502,"t":"84B"},{"b":106,"f":25,"l":3,"u":2503,"t":"84B"},{"b":106,"f":25,"l":4,"u":2504,"t":"74A"},
{"b":106,"f":24,"l":1,"u":2401,"t":"74D"},{"b":106,"f":24,"l":2,"u":2402,"t":"84B"},{"b":106,"f":24,"l":3,"u":2403,"t":"84B"},{"b":106,"f":24,"l":4,"u":2404,"t":"74A"},
{"b":106,"f":23,"l":1,"u":2301,"t":"74D"},{"b":106,"f":23,"l":2,"u":2302,"t":"84B"},{"b":106,"f":23,"l":3,"u":2303,"t":"84B"},{"b":106,"f":23,"l":4,"u":2304,"t":"74A"},
{"b":106,"f":22,"l":1,"u":2201,"t":"74D"},{"b":106,"f":22,"l":2,"u":2202,"t":"84B"},{"b":106,"f":22,"l":3,"u":2203,"t":"84B"},{"b":106,"f":22,"l":4,"u":2204,"t":"74A"},
{"b":106,"f":21,"l":1,"u":2101,"t":"74D"},{"b":106,"f":21,"l":2,"u":2102,"t":"84B"},{"b":106,"f":21,"l":3,"u":2103,"t":"84B"},{"b":106,"f":21,"l":4,"u":2104,"t":"74A"},
{"b":106,"f":20,"l":1,"u":2001,"t":"74D"},{"b":106,"f":20,"l":2,"u":2002,"t":"84B"},{"b":106,"f":20,"l":3,"u":2003,"t":"84B"},{"b":106,"f":20,"l":4,"u":2004,"t":"74A"},
{"b":106,"f":19,"l":1,"u":1901,"t":"74D"},{"b":106,"f":19,"l":2,"u":1902,"t":"84B"},{"b":106,"f":19,"l":3,"u":1903,"t":"84B"},{"b":106,"f":19,"l":4,"u":1904,"t":"74A"},
{"b":106,"f":18,"l":1,"u":1801,"t":"74D"},{"b":106,"f":18,"l":2,"u":1802,"t":"84B"},{"b":106,"f":18,"l":3,"u":1803,"t":"84B"},{"b":106,"f":18,"l":4,"u":1804,"t":"74A"},
{"b":106,"f":17,"l":1,"u":1701,"t":"74D"},{"b":106,"f":17,"l":2,"u":1702,"t":"84B"},{"b":106,"f":17,"l":3,"u":1703,"t":"84B"},{"b":106,"f":17,"l":4,"u":1704,"t":"74A"},
{"b":106,"f":16,"l":1,"u":1601,"t":"74D"},{"b":106,"f":16,"l":2,"u":1602,"t":"84B"},{"b":106,"f":16,"l":3,"u":1603,"t":"84B"},{"b":106,"f":16,"l":4,"u":1604,"t":"74A"},
{"b":106,"f":15,"l":1,"u":1501,"t":"74D"},{"b":106,"f":15,"l":2,"u":1502,"t":"84B"},{"b":106,"f":15,"l":3,"u":1503,"t":"84B"},{"b":106,"f":15,"l":4,"u":1504,"t":"74A"},
{"b":106,"f":14,"l":1,"u":1401,"t":"74D"},{"b":106,"f":14,"l":2,"u":1402,"t":"84B"},{"b":106,"f":14,"l":3,"u":1403,"t":"84B"},{"b":106,"f":14,"l":4,"u":1404,"t":"74A"},
{"b":106,"f":13,"l":1,"u":1301,"t":"74D"},{"b":106,"f":13,"l":2,"u":1302,"t":"84B"},{"b":106,"f":13,"l":3,"u":1303,"t":"84B"},{"b":106,"f":13,"l":4,"u":1304,"t":"74A"},
{"b":106,"f":12,"l":1,"u":1201,"t":"74D"},{"b":106,"f":12,"l":2,"u":1202,"t":"84B"},{"b":106,"f":12,"l":3,"u":1203,"t":"84B"},{"b":106,"f":12,"l":4,"u":1204,"t":"74A"},
{"b":106,"f":11,"l":1,"u":1101,"t":"74D"},{"b":106,"f":11,"l":2,"u":1102,"t":"84B"},{"b":106,"f":11,"l":3,"u":1103,"t":"84B"},{"b":106,"f":11,"l":4,"u":1104,"t":"74A"},
{"b":106,"f":10,"l":1,"u":1001,"t":"74D"},{"b":106,"f":10,"l":2,"u":1002,"t":"84B"},{"b":106,"f":10,"l":3,"u":1003,"t":"84B"},{"b":106,"f":10,"l":4,"u":1004,"t":"74A"},
{"b":106,"f":9,"l":1,"u":901,"t":"74D"},{"b":106,"f":9,"l":2,"u":902,"t":"84B"},{"b":106,"f":9,"l":3,"u":903,"t":"84B"},{"b":106,"f":9,"l":4,"u":904,"t":"74A"},
{"b":106,"f":8,"l":1,"u":801,"t":"74D"},{"b":106,"f":8,"l":2,"u":802,"t":"84B"},{"b":106,"f":8,"l":3,"u":803,"t":"84B"},{"b":106,"f":8,"l":4,"u":804,"t":"74A"},
{"b":106,"f":7,"l":1,"u":701,"t":"74D"},{"b":106,"f":7,"l":2,"u":702,"t":"84B"},{"b":106,"f":7,"l":3,"u":703,"t":"84B"},{"b":106,"f":7,"l":4,"u":704,"t":"74A"},
{"b":106,"f":6,"l":1,"u":601,"t":"74D"},{"b":106,"f":6,"l":2,"u":602,"t":"84B"},{"b":106,"f":6,"l":3,"u":603,"t":"84B"},{"b":106,"f":6,"l":4,"u":604,"t":"74A"},
{"b":106,"f":5,"l":1,"u":501,"t":"74D"},{"b":106,"f":5,"l":2,"u":502,"t":"84B"},{"b":106,"f":5,"l":3,"u":503,"t":"84B"},{"b":106,"f":5,"l":4,"u":504,"t":"74A"},
{"b":106,"f":4,"l":1,"u":401,"t":"74D"},{"b":106,"f":4,"l":2,"u":402,"t":"84B"},{"b":106,"f":4,"l":3,"u":403,"t":"84B"},{"b":106,"f":4,"l":4,"u":404,"t":"74A"},
{"b":106,"f":3,"l":1,"u":301,"t":"74D"},{"b":106,"f":3,"l":2,"u":302,"t":"84B"},{"b":106,"f":3,"l":3,"u":303,"t":"84B"},{"b":106,"f":3,"l":4,"u":304,"t":"74A"},
{"b":106,"f":2,"l":1,"u":201,"t":"74D"},{"b":106,"f":2,"l":2,"u":202,"t":"84B"},{"b":106,"f":2,"l":3,"u":203,"t":"84B"},{"b":106,"f":2,"l":4,"u":204,"t":"74A"},
{"b":106,"f":1,"l":1,"u":"필로티","t":"필로티"},{"b":106,"f":1,"l":2,"u":"필로티","t":"필로티"},{"b":106,"f":1,"l":3,"u":"필로티","t":"필로티"},{"b":106,"f":1,"l":4,"u":"필로티","t":"필로티"},
{"b":107,"f":26,"l":1,"u":2601,"t":"84B"},{"b":107,"f":26,"l":2,"u":2602,"t":"84B"},{"b":107,"f":26,"l":3,"u":2603,"t":"74A"},
{"b":107,"f":25,"l":1,"u":2501,"t":"84B"},{"b":107,"f":25,"l":2,"u":2502,"t":"84B"},{"b":107,"f":25,"l":3,"u":2503,"t":"74A"},
{"b":107,"f":24,"l":1,"u":2401,"t":"84B"},{"b":107,"f":24,"l":2,"u":2402,"t":"84B"},{"b":107,"f":24,"l":3,"u":2403,"t":"74A"},
{"b":107,"f":23,"l":1,"u":2301,"t":"84B"},{"b":107,"f":23,"l":2,"u":2302,"t":"84B"},{"b":107,"f":23,"l":3,"u":2303,"t":"74A"},
{"b":107,"f":22,"l":1,"u":2201,"t":"84B"},{"b":107,"f":22,"l":2,"u":2202,"t":"84B"},{"b":107,"f":22,"l":3,"u":2203,"t":"74A"},
{"b":107,"f":21,"l":1,"u":2101,"t":"84B"},{"b":107,"f":21,"l":2,"u":2102,"t":"84B"},{"b":107,"f":21,"l":3,"u":2103,"t":"74A"},
{"b":107,"f":20,"l":1,"u":2001,"t":"84B"},{"b":107,"f":20,"l":2,"u":2002,"t":"84B"},{"b":107,"f":20,"l":3,"u":2003,"t":"74A"},
{"b":107,"f":19,"l":1,"u":1901,"t":"84B"},{"b":107,"f":19,"l":2,"u":1902,"t":"84B"},{"b":107,"f":19,"l":3,"u":1903,"t":"74A"},
{"b":107,"f":18,"l":1,"u":1801,"t":"84B"},{"b":107,"f":18,"l":2,"u":1802,"t":"84B"},{"b":107,"f":18,"l":3,"u":1803,"t":"74A"},
{"b":107,"f":17,"l":1,"u":1701,"t":"84B"},{"b":107,"f":17,"l":2,"u":1702,"t":"84B"},{"b":107,"f":17,"l":3,"u":1703,"t":"74A"},
{"b":107,"f":16,"l":1,"u":1601,"t":"84B"},{"b":107,"f":16,"l":2,"u":1602,"t":"84B"},{"b":107,"f":16,"l":3,"u":1603,"t":"74A"},
{"b":107,"f":15,"l":1,"u":1501,"t":"84B"},{"b":107,"f":15,"l":2,"u":1502,"t":"84B"},{"b":107,"f":15,"l":3,"u":1503,"t":"74A"},
{"b":107,"f":14,"l":1,"u":1401,"t":"84B"},{"b":107,"f":14,"l":2,"u":1402,"t":"84B"},{"b":107,"f":14,"l":3,"u":1403,"t":"74A"},
{"b":107,"f":13,"l":1,"u":1301,"t":"84B"},{"b":107,"f":13,"l":2,"u":1302,"t":"84B"},{"b":107,"f":13,"l":3,"u":1303,"t":"74A"},
{"b":107,"f":12,"l":1,"u":1201,"t":"84B"},{"b":107,"f":12,"l":2,"u":1202,"t":"84B"},{"b":107,"f":12,"l":3,"u":1203,"t":"74A"},
{"b":107,"f":11,"l":1,"u":1101,"t":"84B"},{"b":107,"f":11,"l":2,"u":1102,"t":"84B"},{"b":107,"f":11,"l":3,"u":1103,"t":"74A"},
{"b":107,"f":10,"l":1,"u":1001,"t":"84B"},{"b":107,"f":10,"l":2,"u":1002,"t":"84B"},{"b":107,"f":10,"l":3,"u":1003,"t":"74A"},
{"b":107,"f":9,"l":1,"u":901,"t":"84B"},{"b":107,"f":9,"l":2,"u":902,"t":"84B"},{"b":107,"f":9,"l":3,"u":903,"t":"74A"},
{"b":107,"f":8,"l":1,"u":801,"t":"84B"},{"b":107,"f":8,"l":2,"u":802,"t":"84B"},{"b":107,"f":8,"l":3,"u":803,"t":"74A"},
{"b":107,"f":7,"l":1,"u":701,"t":"84B"},{"b":107,"f":7,"l":2,"u":702,"t":"84B"},{"b":107,"f":7,"l":3,"u":703,"t":"74A"},
{"b":107,"f":6,"l":1,"u":601,"t":"84B"},{"b":107,"f":6,"l":2,"u":602,"t":"84B"},{"b":107,"f":6,"l":3,"u":603,"t":"74A"},
{"b":107,"f":5,"l":1,"u":501,"t":"84B"},{"b":107,"f":5,"l":2,"u":502,"t":"84B"},{"b":107,"f":5,"l":3,"u":503,"t":"74A"},
{"b":107,"f":4,"l":1,"u":401,"t":"84B"},{"b":107,"f":4,"l":2,"u":402,"t":"84B"},{"b":107,"f":4,"l":3,"u":403,"t":"74A"},
{"b":107,"f":3,"l":1,"u":301,"t":"84B"},{"b":107,"f":3,"l":2,"u":302,"t":"84B"},{"b":107,"f":3,"l":3,"u":303,"t":"74A"},
{"b":107,"f":2,"l":1,"u":201,"t":"84B"},{"b":107,"f":2,"l":2,"u":202,"t":"84B"},{"b":107,"f":2,"l":3,"u":203,"t":"74A"},
{"b":107,"f":1,"l":1,"u":"필로티","t":"필로티"},{"b":107,"f":1,"l":2,"u":"필로티","t":"필로티"},{"b":107,"f":1,"l":3,"u":"필로티","t":"필로티"},
{"b":108,"f":26,"l":1,"u":2601,"t":"84B"},{"b":108,"f":26,"l":2,"u":2602,"t":"84A"},{"b":108,"f":26,"l":3,"u":2603,"t":"84B"},{"b":108,"f":26,"l":4,"u":2604,"t":"84A"},
{"b":108,"f":25,"l":1,"u":2501,"t":"84B"},{"b":108,"f":25,"l":2,"u":2502,"t":"84A"},{"b":108,"f":25,"l":3,"u":2503,"t":"84B"},{"b":108,"f":25,"l":4,"u":2504,"t":"84A"},
{"b":108,"f":24,"l":1,"u":2401,"t":"84B"},{"b":108,"f":24,"l":2,"u":2402,"t":"84A"},{"b":108,"f":24,"l":3,"u":2403,"t":"84B"},{"b":108,"f":24,"l":4,"u":2404,"t":"84A"},
{"b":108,"f":23,"l":1,"u":2301,"t":"84B"},{"b":108,"f":23,"l":2,"u":2302,"t":"84A"},{"b":108,"f":23,"l":3,"u":2303,"t":"84B"},{"b":108,"f":23,"l":4,"u":2304,"t":"84A"},
{"b":108,"f":22,"l":1,"u":2201,"t":"84B"},{"b":108,"f":22,"l":2,"u":2202,"t":"84A"},{"b":108,"f":22,"l":3,"u":2203,"t":"84B"},{"b":108,"f":22,"l":4,"u":2204,"t":"84A"},
{"b":108,"f":21,"l":1,"u":2101,"t":"84B"},{"b":108,"f":21,"l":2,"u":2102,"t":"84A"},{"b":108,"f":21,"l":3,"u":2103,"t":"84B"},{"b":108,"f":21,"l":4,"u":2104,"t":"84A"},
{"b":108,"f":20,"l":1,"u":2001,"t":"84B"},{"b":108,"f":20,"l":2,"u":2002,"t":"84A"},{"b":108,"f":20,"l":3,"u":2003,"t":"84B"},{"b":108,"f":20,"l":4,"u":2004,"t":"84A"},
{"b":108,"f":19,"l":1,"u":1901,"t":"84B"},{"b":108,"f":19,"l":2,"u":1902,"t":"84A"},{"b":108,"f":19,"l":3,"u":1903,"t":"84B"},{"b":108,"f":19,"l":4,"u":1904,"t":"84A"},
{"b":108,"f":18,"l":1,"u":1801,"t":"84B"},{"b":108,"f":18,"l":2,"u":1802,"t":"84A"},{"b":108,"f":18,"l":3,"u":1803,"t":"84B"},{"b":108,"f":18,"l":4,"u":1804,"t":"84A"},
{"b":108,"f":17,"l":1,"u":1701,"t":"84B"},{"b":108,"f":17,"l":2,"u":1702,"t":"84A"},{"b":108,"f":17,"l":3,"u":1703,"t":"84B"},{"b":108,"f":17,"l":4,"u":1704,"t":"84A"},
{"b":108,"f":16,"l":1,"u":1601,"t":"84B"},{"b":108,"f":16,"l":2,"u":1602,"t":"84A"},{"b":108,"f":16,"l":3,"u":1603,"t":"84B"},{"b":108,"f":16,"l":4,"u":1604,"t":"84A"},
{"b":108,"f":15,"l":1,"u":1501,"t":"84B"},{"b":108,"f":15,"l":2,"u":1502,"t":"84A"},{"b":108,"f":15,"l":3,"u":1503,"t":"84B"},{"b":108,"f":15,"l":4,"u":1504,"t":"84A"},
{"b":108,"f":14,"l":1,"u":1401,"t":"84B"},{"b":108,"f":14,"l":2,"u":1402,"t":"84A"},{"b":108,"f":14,"l":3,"u":1403,"t":"84B"},{"b":108,"f":14,"l":4,"u":1404,"t":"84A"},
{"b":108,"f":13,"l":1,"u":1301,"t":"84B"},{"b":108,"f":13,"l":2,"u":1302,"t":"84A"},{"b":108,"f":13,"l":3,"u":1303,"t":"84B"},{"b":108,"f":13,"l":4,"u":1304,"t":"84A"},
{"b":108,"f":12,"l":1,"u":1201,"t":"84B"},{"b":108,"f":12,"l":2,"u":1202,"t":"84A"},{"b":108,"f":12,"l":3,"u":1203,"t":"84B"},{"b":108,"f":12,"l":4,"u":1204,"t":"84A"},
{"b":108,"f":11,"l":1,"u":1101,"t":"84B"},{"b":108,"f":11,"l":2,"u":1102,"t":"84A"},{"b":108,"f":11,"l":3,"u":1103,"t":"84B"},{"b":108,"f":11,"l":4,"u":1104,"t":"84A"},
{"b":108,"f":10,"l":1,"u":1001,"t":"84B"},{"b":108,"f":10,"l":2,"u":1002,"t":"84A"},{"b":108,"f":10,"l":3,"u":1003,"t":"84B"},{"b":108,"f":10,"l":4,"u":1004,"t":"84A"},
{"b":108,"f":9,"l":1,"u":901,"t":"84B"},{"b":108,"f":9,"l":2,"u":902,"t":"84A"},{"b":108,"f":9,"l":3,"u":903,"t":"84B"},{"b":108,"f":9,"l":4,"u":904,"t":"84A"},
{"b":108,"f":8,"l":1,"u":801,"t":"84B"},{"b":108,"f":8,"l":2,"u":802,"t":"84A"},{"b":108,"f":8,"l":3,"u":803,"t":"84B"},{"b":108,"f":8,"l":4,"u":804,"t":"84A"},
{"b":108,"f":7,"l":1,"u":701,"t":"84B"},{"b":108,"f":7,"l":2,"u":702,"t":"84A"},{"b":108,"f":7,"l":3,"u":703,"t":"84B"},{"b":108,"f":7,"l":4,"u":704,"t":"84A"},
{"b":108,"f":6,"l":1,"u":601,"t":"84B"},{"b":108,"f":6,"l":2,"u":602,"t":"84A"},{"b":108,"f":6,"l":3,"u":603,"t":"84B"},{"b":108,"f":6,"l":4,"u":604,"t":"84A"},
{"b":108,"f":5,"l":1,"u":501,"t":"84B"},{"b":108,"f":5,"l":2,"u":502,"t":"84A"},{"b":108,"f":5,"l":3,"u":503,"t":"84B"},{"b":108,"f":5,"l":4,"u":504,"t":"84A"},
{"b":108,"f":4,"l":1,"u":401,"t":"84B"},{"b":108,"f":4,"l":2,"u":402,"t":"84A"},{"b":108,"f":4,"l":3,"u":403,"t":"84B"},{"b":108,"f":4,"l":4,"u":404,"t":"84A"},
{"b":108,"f":3,"l":1,"u":301,"t":"84B"},{"b":108,"f":3,"l":2,"u":302,"t":"84A"},{"b":108,"f":3,"l":3,"u":303,"t":"84B"},{"b":108,"f":3,"l":4,"u":304,"t":"84A"},
{"b":108,"f":2,"l":1,"u":201,"t":"84B"},{"b":108,"f":2,"l":2,"u":202,"t":"84A"},{"b":108,"f":2,"l":3,"u":203,"t":"84B"},{"b":108,"f":2,"l":4,"u":204,"t":"84A"},
{"b":108,"f":1,"l":1,"u":"필로티","t":"필로티"},{"b":108,"f":1,"l":2,"u":"필로티","t":"필로티"},{"b":108,"f":1,"l":3,"u":"필로티","t":"필로티"},{"b":108,"f":1,"l":4,"u":"필로티","t":"필로티"},
{"b":109,"f":28,"l":3,"u":2803,"t":"84B"},{"b":109,"f":28,"l":4,"u":2804,"t":"84A"},
{"b":109,"f":27,"l":3,"u":2703,"t":"84B"},{"b":109,"f":27,"l":4,"u":2704,"t":"84A"},
{"b":109,"f":26,"l":1,"u":2601,"t":"84B"},{"b":109,"f":26,"l":2,"u":2602,"t":"84A"},{"b":109,"f":26,"l":3,"u":2603,"t":"84B"},{"b":109,"f":26,"l":4,"u":2604,"t":"84A"},
{"b":109,"f":25,"l":1,"u":2501,"t":"84B"},{"b":109,"f":25,"l":2,"u":2502,"t":"84A"},{"b":109,"f":25,"l":3,"u":2503,"t":"84B"},{"b":109,"f":25,"l":4,"u":2504,"t":"84A"},
{"b":109,"f":24,"l":1,"u":2401,"t":"84B"},{"b":109,"f":24,"l":2,"u":2402,"t":"84A"},{"b":109,"f":24,"l":3,"u":2403,"t":"84B"},{"b":109,"f":24,"l":4,"u":2404,"t":"84A"},
{"b":109,"f":23,"l":1,"u":2301,"t":"84B"},{"b":109,"f":23,"l":2,"u":2302,"t":"84A"},{"b":109,"f":23,"l":3,"u":2303,"t":"84B"},{"b":109,"f":23,"l":4,"u":2304,"t":"84A"},
{"b":109,"f":22,"l":1,"u":2201,"t":"84B"},{"b":109,"f":22,"l":2,"u":2202,"t":"84A"},{"b":109,"f":22,"l":3,"u":2203,"t":"84B"},{"b":109,"f":22,"l":4,"u":2204,"t":"84A"},
{"b":109,"f":21,"l":1,"u":2101,"t":"84B"},{"b":109,"f":21,"l":2,"u":2102,"t":"84A"},{"b":109,"f":21,"l":3,"u":2103,"t":"84B"},{"b":109,"f":21,"l":4,"u":2104,"t":"84A"},
{"b":109,"f":20,"l":1,"u":2001,"t":"84B"},{"b":109,"f":20,"l":2,"u":2002,"t":"84A"},{"b":109,"f":20,"l":3,"u":2003,"t":"84B"},{"b":109,"f":20,"l":4,"u":2004,"t":"84A"},
{"b":109,"f":19,"l":1,"u":1901,"t":"84B"},{"b":109,"f":19,"l":2,"u":1902,"t":"84A"},{"b":109,"f":19,"l":3,"u":1903,"t":"84B"},{"b":109,"f":19,"l":4,"u":1904,"t":"84A"},
{"b":109,"f":18,"l":1,"u":1801,"t":"84B"},{"b":109,"f":18,"l":2,"u":1802,"t":"84A"},{"b":109,"f":18,"l":3,"u":1803,"t":"84B"},{"b":109,"f":18,"l":4,"u":1804,"t":"84A"},
{"b":109,"f":17,"l":1,"u":1701,"t":"84B"},{"b":109,"f":17,"l":2,"u":1702,"t":"84A"},{"b":109,"f":17,"l":3,"u":1703,"t":"84B"},{"b":109,"f":17,"l":4,"u":1704,"t":"84A"},
{"b":109,"f":16,"l":1,"u":1601,"t":"84B"},{"b":109,"f":16,"l":2,"u":1602,"t":"84A"},{"b":109,"f":16,"l":3,"u":1603,"t":"84B"},{"b":109,"f":16,"l":4,"u":1604,"t":"84A"},
{"b":109,"f":15,"l":1,"u":1501,"t":"84B"},{"b":109,"f":15,"l":2,"u":1502,"t":"84A"},{"b":109,"f":15,"l":3,"u":1503,"t":"84B"},{"b":109,"f":15,"l":4,"u":1504,"t":"84A"},
{"b":109,"f":14,"l":1,"u":1401,"t":"84B"},{"b":109,"f":14,"l":2,"u":1402,"t":"84A"},{"b":109,"f":14,"l":3,"u":1403,"t":"84B"},{"b":109,"f":14,"l":4,"u":1404,"t":"84A"},
{"b":109,"f":13,"l":1,"u":1301,"t":"84B"},{"b":109,"f":13,"l":2,"u":1302,"t":"84A"},{"b":109,"f":13,"l":3,"u":1303,"t":"84B"},{"b":109,"f":13,"l":4,"u":1304,"t":"84A"},
{"b":109,"f":12,"l":1,"u":1201,"t":"84B"},{"b":109,"f":12,"l":2,"u":1202,"t":"84A"},{"b":109,"f":12,"l":3,"u":1203,"t":"84B"},{"b":109,"f":12,"l":4,"u":1204,"t":"84A"},
{"b":109,"f":11,"l":1,"u":1101,"t":"84B"},{"b":109,"f":11,"l":2,"u":1102,"t":"84A"},{"b":109,"f":11,"l":3,"u":1103,"t":"84B"},{"b":109,"f":11,"l":4,"u":1104,"t":"84A"},
{"b":109,"f":10,"l":1,"u":1001,"t":"84B"},{"b":109,"f":10,"l":2,"u":1002,"t":"84A"},{"b":109,"f":10,"l":3,"u":1003,"t":"84B"},{"b":109,"f":10,"l":4,"u":1004,"t":"84A"},
{"b":109,"f":9,"l":1,"u":901,"t":"84B"},{"b":109,"f":9,"l":2,"u":902,"t":"84A"},{"b":109,"f":9,"l":3,"u":903,"t":"84B"},{"b":109,"f":9,"l":4,"u":904,"t":"84A"},
{"b":109,"f":8,"l":1,"u":801,"t":"84B"},{"b":109,"f":8,"l":2,"u":802,"t":"84A"},{"b":109,"f":8,"l":3,"u":803,"t":"84B"},{"b":109,"f":8,"l":4,"u":804,"t":"84A"},
{"b":109,"f":7,"l":1,"u":701,"t":"84B"},{"b":109,"f":7,"l":2,"u":702,"t":"84A"},{"b":109,"f":7,"l":3,"u":703,"t":"84B"},{"b":109,"f":7,"l":4,"u":704,"t":"84A"},
{"b":109,"f":6,"l":1,"u":601,"t":"84B"},{"b":109,"f":6,"l":2,"u":602,"t":"84A"},{"b":109,"f":6,"l":3,"u":603,"t":"84B"},{"b":109,"f":6,"l":4,"u":604,"t":"84A"},
{"b":109,"f":5,"l":1,"u":501,"t":"84B"},{"b":109,"f":5,"l":2,"u":502,"t":"84A"},{"b":109,"f":5,"l":3,"u":503,"t":"84B"},{"b":109,"f":5,"l":4,"u":504,"t":"84A"},
{"b":109,"f":4,"l":1,"u":401,"t":"84B"},{"b":109,"f":4,"l":2,"u":402,"t":"84A"},{"b":109,"f":4,"l":3,"u":403,"t":"84B"},{"b":109,"f":4,"l":4,"u":404,"t":"84A"},
{"b":109,"f":3,"l":1,"u":301,"t":"84B"},{"b":109,"f":3,"l":2,"u":302,"t":"84A"},{"b":109,"f":3,"l":3,"u":303,"t":"84B"},{"b":109,"f":3,"l":4,"u":304,"t":"84A"},
{"b":109,"f":2,"l":1,"u":201,"t":"84B"},{"b":109,"f":2,"l":2,"u":202,"t":"84A"},{"b":109,"f":2,"l":3,"u":203,"t":"84B"},{"b":109,"f":2,"l":4,"u":204,"t":"84A"},
{"b":109,"f":1,"l":1,"u":"필로티","t":"필로티"},{"b":109,"f":1,"l":2,"u":"필로티","t":"필로티"},{"b":109,"f":1,"l":3,"u":"필로티","t":"필로티"},{"b":109,"f":1,"l":4,"u":"필로티","t":"필로티"},
{"b":110,"f":29,"l":3,"u":2903,"t":"84B"},{"b":110,"f":29,"l":4,"u":2904,"t":"84A"},
{"b":110,"f":28,"l":3,"u":2803,"t":"84B"},{"b":110,"f":28,"l":4,"u":2804,"t":"84A"},
{"b":110,"f":27,"l":3,"u":2703,"t":"84B"},{"b":110,"f":27,"l":4,"u":2704,"t":"84A"},
{"b":110,"f":26,"l":1,"u":2601,"t":"84B"},{"b":110,"f":26,"l":2,"u":2602,"t":"84A"},{"b":110,"f":26,"l":3,"u":2603,"t":"84B"},{"b":110,"f":26,"l":4,"u":2604,"t":"84A"},
{"b":110,"f":25,"l":1,"u":2501,"t":"84B"},{"b":110,"f":25,"l":2,"u":2502,"t":"84A"},{"b":110,"f":25,"l":3,"u":2503,"t":"84B"},{"b":110,"f":25,"l":4,"u":2504,"t":"84A"},
{"b":110,"f":24,"l":1,"u":2401,"t":"84B"},{"b":110,"f":24,"l":2,"u":2402,"t":"84A"},{"b":110,"f":24,"l":3,"u":2403,"t":"84B"},{"b":110,"f":24,"l":4,"u":2404,"t":"84A"},
{"b":110,"f":23,"l":1,"u":2301,"t":"84B"},{"b":110,"f":23,"l":2,"u":2302,"t":"84A"},{"b":110,"f":23,"l":3,"u":2303,"t":"84B"},{"b":110,"f":23,"l":4,"u":2304,"t":"84A"},
{"b":110,"f":22,"l":1,"u":2201,"t":"84B"},{"b":110,"f":22,"l":2,"u":2202,"t":"84A"},{"b":110,"f":22,"l":3,"u":2203,"t":"84B"},{"b":110,"f":22,"l":4,"u":2204,"t":"84A"},
{"b":110,"f":21,"l":1,"u":2101,"t":"84B"},{"b":110,"f":21,"l":2,"u":2102,"t":"84A"},{"b":110,"f":21,"l":3,"u":2103,"t":"84B"},{"b":110,"f":21,"l":4,"u":2104,"t":"84A"},
{"b":110,"f":20,"l":1,"u":2001,"t":"84B"},{"b":110,"f":20,"l":2,"u":2002,"t":"84A"},{"b":110,"f":20,"l":3,"u":2003,"t":"84B"},{"b":110,"f":20,"l":4,"u":2004,"t":"84A"},
{"b":110,"f":19,"l":1,"u":1901,"t":"84B"},{"b":110,"f":19,"l":2,"u":1902,"t":"84A"},{"b":110,"f":19,"l":3,"u":1903,"t":"84B"},{"b":110,"f":19,"l":4,"u":1904,"t":"84A"},
{"b":110,"f":18,"l":1,"u":1801,"t":"84B"},{"b":110,"f":18,"l":2,"u":1802,"t":"84A"},{"b":110,"f":18,"l":3,"u":1803,"t":"84B"},{"b":110,"f":18,"l":4,"u":1804,"t":"84A"},
{"b":110,"f":17,"l":1,"u":1701,"t":"84B"},{"b":110,"f":17,"l":2,"u":1702,"t":"84A"},{"b":110,"f":17,"l":3,"u":1703,"t":"84B"},{"b":110,"f":17,"l":4,"u":1704,"t":"84A"},
{"b":110,"f":16,"l":1,"u":1601,"t":"84B"},{"b":110,"f":16,"l":2,"u":1602,"t":"84A"},{"b":110,"f":16,"l":3,"u":1603,"t":"84B"},{"b":110,"f":16,"l":4,"u":1604,"t":"84A"},
{"b":110,"f":15,"l":1,"u":1501,"t":"84B"},{"b":110,"f":15,"l":2,"u":1502,"t":"84A"},{"b":110,"f":15,"l":3,"u":1503,"t":"84B"},{"b":110,"f":15,"l":4,"u":1504,"t":"84A"},
{"b":110,"f":14,"l":1,"u":1401,"t":"84B"},{"b":110,"f":14,"l":2,"u":1402,"t":"84A"},{"b":110,"f":14,"l":3,"u":1403,"t":"84B"},{"b":110,"f":14,"l":4,"u":1404,"t":"84A"},
{"b":110,"f":13,"l":1,"u":1301,"t":"84B"},{"b":110,"f":13,"l":2,"u":1302,"t":"84A"},{"b":110,"f":13,"l":3,"u":1303,"t":"84B"},{"b":110,"f":13,"l":4,"u":1304,"t":"84A"},
{"b":110,"f":12,"l":1,"u":1201,"t":"84B"},{"b":110,"f":12,"l":2,"u":1202,"t":"84A"},{"b":110,"f":12,"l":3,"u":1203,"t":"84B"},{"b":110,"f":12,"l":4,"u":1204,"t":"84A"},
{"b":110,"f":11,"l":1,"u":1101,"t":"84B"},{"b":110,"f":11,"l":2,"u":1102,"t":"84A"},{"b":110,"f":11,"l":3,"u":1103,"t":"84B"},{"b":110,"f":11,"l":4,"u":1104,"t":"84A"},
{"b":110,"f":10,"l":1,"u":1001,"t":"84B"},{"b":110,"f":10,"l":2,"u":1002,"t":"84A"},{"b":110,"f":10,"l":3,"u":1003,"t":"84B"},{"b":110,"f":10,"l":4,"u":1004,"t":"84A"},
{"b":110,"f":9,"l":1,"u":901,"t":"84B"},{"b":110,"f":9,"l":2,"u":902,"t":"84A"},{"b":110,"f":9,"l":3,"u":903,"t":"84B"},{"b":110,"f":9,"l":4,"u":904,"t":"84A"},
{"b":110,"f":8,"l":1,"u":801,"t":"84B"},{"b":110,"f":8,"l":2,"u":802,"t":"84A"},{"b":110,"f":8,"l":3,"u":803,"t":"84B"},{"b":110,"f":8,"l":4,"u":804,"t":"84A"},
{"b":110,"f":7,"l":1,"u":701,"t":"84B"},{"b":110,"f":7,"l":2,"u":702,"t":"84A"},{"b":110,"f":7,"l":3,"u":703,"t":"84B"},{"b":110,"f":7,"l":4,"u":704,"t":"84A"},
{"b":110,"f":6,"l":1,"u":601,"t":"84B"},{"b":110,"f":6,"l":2,"u":602,"t":"84A"},{"b":110,"f":6,"l":3,"u":603,"t":"84B"},{"b":110,"f":6,"l":4,"u":604,"t":"84A"},
{"b":110,"f":5,"l":1,"u":501,"t":"84B"},{"b":110,"f":5,"l":2,"u":502,"t":"84A"},{"b":110,"f":5,"l":3,"u":503,"t":"84B"},{"b":110,"f":5,"l":4,"u":504,"t":"84A"},
{"b":110,"f":4,"l":1,"u":401,"t":"84B"},{"b":110,"f":4,"l":2,"u":402,"t":"84A"},{"b":110,"f":4,"l":3,"u":403,"t":"84B"},{"b":110,"f":4,"l":4,"u":404,"t":"84A"},
{"b":110,"f":3,"l":1,"u":301,"t":"84B"},{"b":110,"f":3,"l":2,"u":302,"t":"84A"},{"b":110,"f":3,"l":3,"u":303,"t":"84B"},{"b":110,"f":3,"l":4,"u":304,"t":"84A"},
{"b":110,"f":2,"l":1,"u":201,"t":"84B"},{"b":110,"f":2,"l":2,"u":202,"t":"84A"},{"b":110,"f":2,"l":3,"u":203,"t":"84B"},{"b":110,"f":2,"l":4,"u":204,"t":"84A"},
{"b":110,"f":1,"l":1,"u":"필로티","t":"필로티"},{"b":110,"f":1,"l":2,"u":"필로티","t":"필로티"},{"b":110,"f":1,"l":3,"u":"필로티","t":"필로티"},{"b":110,"f":1,"l":4,"u":"필로티","t":"필로티"}
]
},
"spacing":48.4,
"resolve":{"scale":{"x":"independent","y":"independent","xOffset":"independent"}},
"vconcat":[
{"spacing":9.7,"resolve":{"scale":{"x":"independent","y":"independent","xOffset":"independent"}},
 "vconcat":[
  {"bounds":"flush","spacing":18.7,"resolve":{"scale":{"x":"independent","y":"independent","xOffset":"independent"}},
   "hconcat":[
    {"width":50,"height":610.5,"data":{"name":"fl"},"transform":[{"filter":"datum.f<=26"}],
     "layer":[
      {"mark":{"type":"rule","stroke":"#a9a9a9","strokeWidth":1},"encoding":{"y":{"field":"f","type":"ordinal","bandPosition":0,"scale":{"domain":[26,25,24,23,22,21,20,19,18,17,16,15,14,13,12,11,10,9,8,7,6,5,4,3,2,1],"paddingInner":0,"paddingOuter":0}}}},
      {"transform":[{"filter":"datum.f==26"}],"mark":{"type":"rule","stroke":"#6e6e6e","strokeWidth":1.5},"encoding":{"y":{"field":"f","type":"ordinal","bandPosition":0,"scale":{"domain":[26,25,24,23,22,21,20,19,18,17,16,15,14,13,12,11,10,9,8,7,6,5,4,3,2,1],"paddingInner":0,"paddingOuter":0}}}},
      {"transform":[{"filter":"datum.f==1"}],"mark":{"type":"rule","stroke":"#6e6e6e","strokeWidth":1.5},"encoding":{"y":{"field":"f","type":"ordinal","bandPosition":1,"scale":{"domain":[26,25,24,23,22,21,20,19,18,17,16,15,14,13,12,11,10,9,8,7,6,5,4,3,2,1],"paddingInner":0,"paddingOuter":0}}}},
      {"mark":{"type":"text","fontSize":14,"fill":"#3a3a3a"},"encoding":{"y":{"field":"f","type":"ordinal","scale":{"domain":[26,25,24,23,22,21,20,19,18,17,16,15,14,13,12,11,10,9,8,7,6,5,4,3,2,1],"paddingInner":0,"paddingOuter":0}},"text":{"field":"n","type":"nominal"}}}
     ]},
    {"width":639.6,"height":610.5,"data":{"name":"u"},"transform":[{"filter":{"field":"b","oneOf":[101,102,103]}}],
     "encoding":{
      "x":{"field":"b","type":"ordinal","scale":{"domain":[101,102,103],"paddingInner":0.0954,"paddingOuter":0}},
      "xOffset":{"field":"l","type":"ordinal","scale":{"domain":[1,2,3,4],"paddingInner":0,"paddingOuter":0}},
      "y":{"field":"f","type":"ordinal","scale":{"domain":[26,25,24,23,22,21,20,19,18,17,16,15,14,13,12,11,10,9,8,7,6,5,4,3,2,1],"paddingInner":0,"paddingOuter":0}}},
     "layer":[
      {"mark":{"type":"rect","stroke":"#6b5a48","strokeOpacity":0.5,"strokeWidth":1},"encoding":{"fill":{"field":"t","type":"nominal","scale":{"domain":["84B","84A","74B","74C","99A","74D","74A","필로티"],"range":["#eea65e","#fddd92","#a8dbe7","#dde9a1","#d4a9c9","#a9c06c","#80aee0","#f5f5f5"]}}}},
      {"transform":[{"filter":"datum.f==1"}],"mark":{"type":"point","shape":"M-1,-0.4715L1,0.4715M-1,0.4715L1,-0.4715","size":2480,"filled":false,"stroke":"#8f8f8f","strokeWidth":1,"opacity":1}},
      {"mark":{"type":"text","fontSize":13.5,"fill":"#333333"},"encoding":{"text":{"field":"u","type":"nominal"}}}
     ]}
   ]},
  {"spacing":-1,"resolve":{"scale":{"x":"independent","y":"independent","xOffset":"independent"}},
   "vconcat":[
    {"bounds":"flush","spacing":18.7,"resolve":{"scale":{"x":"independent","y":"independent","xOffset":"independent"}},
     "hconcat":[
      {"width":50,"height":36,"data":{"values":[{"k":"t","n":"타입"},{"k":"h","n":"라인"}]},
       "encoding":{"y":{"field":"k","type":"nominal","scale":{"domain":["t","h"],"paddingInner":0,"paddingOuter":0}}},
       "layer":[
        {"mark":{"type":"rule","stroke":"#a9a9a9","strokeWidth":1},"encoding":{"y":{"field":"k","type":"nominal","bandPosition":0,"scale":{"domain":["t","h"],"paddingInner":0,"paddingOuter":0}}}},
        {"transform":[{"filter":"datum.k=='t'"}],"mark":{"type":"rule","stroke":"#6e6e6e","strokeWidth":1.5},"encoding":{"y":{"field":"k","type":"nominal","bandPosition":0,"scale":{"domain":["t","h"],"paddingInner":0,"paddingOuter":0}}}},
        {"mark":{"type":"text","fontSize":14,"fill":"#3a3a3a"},"encoding":{"text":{"field":"n","type":"nominal"}}}
       ]},
      {"width":639.6,"height":36,"data":{"name":"bt"},"transform":[{"filter":{"field":"b","oneOf":[101,102,103]}},{"fold":["t","h"],"as":["k","v"]}],
       "encoding":{
        "x":{"field":"b","type":"ordinal","scale":{"domain":[101,102,103],"paddingInner":0.0954,"paddingOuter":0}},
        "xOffset":{"field":"l","type":"ordinal","scale":{"domain":[1,2,3,4],"paddingInner":0,"paddingOuter":0}},
        "y":{"field":"k","type":"nominal","scale":{"domain":["t","h"],"paddingInner":0,"paddingOuter":0}}},
       "layer":[
        {"mark":{"type":"rect","stroke":"#6b5a48","strokeOpacity":0.5,"strokeWidth":1},"encoding":{"fill":{"field":"t","type":"nominal","scale":{"domain":["84B","84A","74B","74C","99A","74D","74A","필로티"],"range":["#eea65e","#fddd92","#a8dbe7","#dde9a1","#d4a9c9","#a9c06c","#80aee0","#f5f5f5"]}}}},
        {"mark":{"type":"text","fontSize":12.5,"fill":"#333333"},"encoding":{"text":{"field":"v","type":"nominal"}}}
       ]}
     ]},
    {"bounds":"flush","spacing":18.7,"resolve":{"scale":{"x":"independent","y":"independent","xOffset":"independent"}},
     "hconcat":[
      {"width":50,"height":29.6,"data":{"values":[{"n":"동"}]},
       "layer":[
        {"mark":{"type":"rule","stroke":"#a9a9a9","strokeWidth":1},"encoding":{"y":{"field":"n","type":"nominal","bandPosition":0,"scale":{"paddingInner":0,"paddingOuter":0}}}},
        {"mark":{"type":"rule","stroke":"#6e6e6e","strokeWidth":1.5},"encoding":{"y":{"field":"n","type":"nominal","bandPosition":1,"scale":{"paddingInner":0,"paddingOuter":0}}}},
        {"mark":{"type":"text","fontSize":14,"fill":"#3a3a3a"},"encoding":{"text":{"field":"n","type":"nominal"}}}
       ]},
      {"width":639.6,"height":29.6,"data":{"name":"bd"},"transform":[{"filter":{"field":"b","oneOf":[101,102,103]}}],
       "encoding":{"x":{"field":"b","type":"ordinal","scale":{"domain":[101,102,103],"paddingInner":0.0954,"paddingOuter":0}}},
       "layer":[
        {"mark":{"type":"rect","fill":"#8a7f76","stroke":"#6f6862","strokeWidth":1}},
        {"mark":{"type":"text","fontSize":16,"fontWeight":"bold","fill":"#ffffff"},"encoding":{"text":{"field":"n","type":"nominal"}}}
       ]}
     ]}
   ]}
 ]},
{"spacing":15.9,"resolve":{"scale":{"x":"independent","y":"independent","xOffset":"independent"}},
 "vconcat":[
  {"spacing":17.45,"resolve":{"scale":{"x":"independent","y":"independent","xOffset":"independent"}},
   "hconcat":[
    {"width":50,"height":680.9,"data":{"name":"fl"},
     "layer":[
      {"mark":{"type":"rule","stroke":"#a9a9a9","strokeWidth":1},"encoding":{"y":{"field":"f","type":"ordinal","bandPosition":0,"scale":{"domain":[29,28,27,26,25,24,23,22,21,20,19,18,17,16,15,14,13,12,11,10,9,8,7,6,5,4,3,2,1],"paddingInner":0,"paddingOuter":0}}}},
      {"transform":[{"filter":"datum.f==29"}],"mark":{"type":"rule","stroke":"#6e6e6e","strokeWidth":1.5},"encoding":{"y":{"field":"f","type":"ordinal","bandPosition":0,"scale":{"domain":[29,28,27,26,25,24,23,22,21,20,19,18,17,16,15,14,13,12,11,10,9,8,7,6,5,4,3,2,1],"paddingInner":0,"paddingOuter":0}}}},
      {"transform":[{"filter":"datum.f==1"}],"mark":{"type":"rule","stroke":"#6e6e6e","strokeWidth":1.5},"encoding":{"y":{"field":"f","type":"ordinal","bandPosition":1,"scale":{"domain":[29,28,27,26,25,24,23,22,21,20,19,18,17,16,15,14,13,12,11,10,9,8,7,6,5,4,3,2,1],"paddingInner":0,"paddingOuter":0}}}},
      {"mark":{"type":"text","fontSize":14,"fill":"#3a3a3a"},"encoding":{"y":{"field":"f","type":"ordinal","scale":{"domain":[29,28,27,26,25,24,23,22,21,20,19,18,17,16,15,14,13,12,11,10,9,8,7,6,5,4,3,2,1],"paddingInner":0,"paddingOuter":0}},"text":{"field":"n","type":"nominal"}}}
     ]},
    {"bounds":"flush","spacing":21,"resolve":{"scale":{"x":"independent","y":"independent","xOffset":"independent"}},
     "hconcat":[
      {"width":639.6,"height":680.9,"data":{"name":"u"},"transform":[{"filter":{"field":"b","oneOf":[104,105,106]}}],
       "encoding":{
        "x":{"field":"b","type":"ordinal","scale":{"domain":[104,105,106],"paddingInner":0.0954,"paddingOuter":0}},
        "xOffset":{"field":"l","type":"ordinal","scale":{"domain":[1,2,3,4],"paddingInner":0,"paddingOuter":0}},
        "y":{"field":"f","type":"ordinal","scale":{"domain":[29,28,27,26,25,24,23,22,21,20,19,18,17,16,15,14,13,12,11,10,9,8,7,6,5,4,3,2,1],"paddingInner":0,"paddingOuter":0}}},
       "layer":[
        {"mark":{"type":"rect","stroke":"#6b5a48","strokeOpacity":0.5,"strokeWidth":1},"encoding":{"fill":{"field":"t","type":"nominal","scale":{"domain":["84B","84A","74B","74C","99A","74D","74A","필로티"],"range":["#eea65e","#fddd92","#a8dbe7","#dde9a1","#d4a9c9","#a9c06c","#80aee0","#f5f5f5"]}}}},
        {"transform":[{"filter":"datum.f==1"}],"mark":{"type":"point","shape":"M-1,-0.4715L1,0.4715M-1,0.4715L1,-0.4715","size":2480,"filled":false,"stroke":"#8f8f8f","strokeWidth":1,"opacity":1}},
        {"mark":{"type":"text","fontSize":13.5,"fill":"#333333"},"encoding":{"text":{"field":"u","type":"nominal"}}}
       ]},
      {"width":149.4,"height":680.9,"data":{"name":"u"},"transform":[{"filter":{"field":"b","oneOf":[107]}}],
       "encoding":{
        "x":{"field":"b","type":"ordinal","scale":{"domain":[107],"paddingInner":0,"paddingOuter":0}},
        "xOffset":{"field":"l","type":"ordinal","scale":{"domain":[1,2,3],"paddingInner":0,"paddingOuter":0}},
        "y":{"field":"f","type":"ordinal","scale":{"domain":[29,28,27,26,25,24,23,22,21,20,19,18,17,16,15,14,13,12,11,10,9,8,7,6,5,4,3,2,1],"paddingInner":0,"paddingOuter":0}}},
       "layer":[
        {"mark":{"type":"rect","stroke":"#6b5a48","strokeOpacity":0.5,"strokeWidth":1},"encoding":{"fill":{"field":"t","type":"nominal","scale":{"domain":["84B","84A","74B","74C","99A","74D","74A","필로티"],"range":["#eea65e","#fddd92","#a8dbe7","#dde9a1","#d4a9c9","#a9c06c","#80aee0","#f5f5f5"]}}}},
        {"transform":[{"filter":"datum.f==1"}],"mark":{"type":"point","shape":"M-1,-0.4715L1,0.4715M-1,0.4715L1,-0.4715","size":2480,"filled":false,"stroke":"#8f8f8f","strokeWidth":1,"opacity":1}},
        {"mark":{"type":"text","fontSize":13.5,"fill":"#333333"},"encoding":{"text":{"field":"u","type":"nominal"}}}
       ]}
     ]}
   ]},
  {"spacing":-1,"resolve":{"scale":{"x":"independent","y":"independent","xOffset":"independent"}},
   "vconcat":[
    {"spacing":17.45,"resolve":{"scale":{"x":"independent","y":"independent","xOffset":"independent"}},
     "hconcat":[
      {"width":50,"height":36,"data":{"values":[{"k":"t","n":"타입"},{"k":"h","n":"라인"}]},
       "encoding":{"y":{"field":"k","type":"nominal","scale":{"domain":["t","h"],"paddingInner":0,"paddingOuter":0}}},
       "layer":[
        {"mark":{"type":"rule","stroke":"#a9a9a9","strokeWidth":1},"encoding":{"y":{"field":"k","type":"nominal","bandPosition":0,"scale":{"domain":["t","h"],"paddingInner":0,"paddingOuter":0}}}},
        {"transform":[{"filter":"datum.k=='t'"}],"mark":{"type":"rule","stroke":"#6e6e6e","strokeWidth":1.5},"encoding":{"y":{"field":"k","type":"nominal","bandPosition":0,"scale":{"domain":["t","h"],"paddingInner":0,"paddingOuter":0}}}},
        {"mark":{"type":"text","fontSize":14,"fill":"#3a3a3a"},"encoding":{"text":{"field":"n","type":"nominal"}}}
       ]},
      {"bounds":"flush","spacing":21,"resolve":{"scale":{"x":"independent","y":"independent","xOffset":"independent"}},
       "hconcat":[
        {"width":639.6,"height":36,"data":{"name":"bt"},"transform":[{"filter":{"field":"b","oneOf":[104,105,106]}},{"fold":["t","h"],"as":["k","v"]}],
         "encoding":{
          "x":{"field":"b","type":"ordinal","scale":{"domain":[104,105,106],"paddingInner":0.0954,"paddingOuter":0}},
          "xOffset":{"field":"l","type":"ordinal","scale":{"domain":[1,2,3,4],"paddingInner":0,"paddingOuter":0}},
          "y":{"field":"k","type":"nominal","scale":{"domain":["t","h"],"paddingInner":0,"paddingOuter":0}}},
         "layer":[
          {"mark":{"type":"rect","stroke":"#6b5a48","strokeOpacity":0.5,"strokeWidth":1},"encoding":{"fill":{"field":"t","type":"nominal","scale":{"domain":["84B","84A","74B","74C","99A","74D","74A","필로티"],"range":["#eea65e","#fddd92","#a8dbe7","#dde9a1","#d4a9c9","#a9c06c","#80aee0","#f5f5f5"]}}}},
          {"mark":{"type":"text","fontSize":12.5,"fill":"#333333"},"encoding":{"text":{"field":"v","type":"nominal"}}}
         ]},
        {"width":149.4,"height":36,"data":{"name":"bt"},"transform":[{"filter":{"field":"b","oneOf":[107]}},{"fold":["t","h"],"as":["k","v"]}],
         "encoding":{
          "x":{"field":"b","type":"ordinal","scale":{"domain":[107],"paddingInner":0,"paddingOuter":0}},
          "xOffset":{"field":"l","type":"ordinal","scale":{"domain":[1,2,3],"paddingInner":0,"paddingOuter":0}},
          "y":{"field":"k","type":"nominal","scale":{"domain":["t","h"],"paddingInner":0,"paddingOuter":0}}},
         "layer":[
          {"mark":{"type":"rect","stroke":"#6b5a48","strokeOpacity":0.5,"strokeWidth":1},"encoding":{"fill":{"field":"t","type":"nominal","scale":{"domain":["84B","84A","74B","74C","99A","74D","74A","필로티"],"range":["#eea65e","#fddd92","#a8dbe7","#dde9a1","#d4a9c9","#a9c06c","#80aee0","#f5f5f5"]}}}},
          {"mark":{"type":"text","fontSize":12.5,"fill":"#333333"},"encoding":{"text":{"field":"v","type":"nominal"}}}
         ]}
       ]}
     ]},
    {"spacing":17.45,"resolve":{"scale":{"x":"independent","y":"independent","xOffset":"independent"}},
     "hconcat":[
      {"width":50,"height":29.6,"data":{"values":[{"n":"동"}]},
       "layer":[
        {"mark":{"type":"rule","stroke":"#a9a9a9","strokeWidth":1},"encoding":{"y":{"field":"n","type":"nominal","bandPosition":0,"scale":{"paddingInner":0,"paddingOuter":0}}}},
        {"mark":{"type":"rule","stroke":"#6e6e6e","strokeWidth":1.5},"encoding":{"y":{"field":"n","type":"nominal","bandPosition":1,"scale":{"paddingInner":0,"paddingOuter":0}}}},
        {"mark":{"type":"text","fontSize":14,"fill":"#3a3a3a"},"encoding":{"text":{"field":"n","type":"nominal"}}}
       ]},
      {"bounds":"flush","spacing":21,"resolve":{"scale":{"x":"independent","y":"independent","xOffset":"independent"}},
       "hconcat":[
        {"width":639.6,"height":29.6,"data":{"name":"bd"},"transform":[{"filter":{"field":"b","oneOf":[104,105,106]}}],
         "encoding":{"x":{"field":"b","type":"ordinal","scale":{"domain":[104,105,106],"paddingInner":0.0954,"paddingOuter":0}}},
         "layer":[
          {"mark":{"type":"rect","fill":"#8a7f76","stroke":"#6f6862","strokeWidth":1}},
          {"mark":{"type":"text","fontSize":16,"fontWeight":"bold","fill":"#ffffff"},"encoding":{"text":{"field":"n","type":"nominal"}}}
         ]},
        {"width":149.4,"height":29.6,"data":{"name":"bd"},"transform":[{"filter":{"field":"b","oneOf":[107]}}],
         "encoding":{"x":{"field":"b","type":"ordinal","scale":{"domain":[107],"paddingInner":0,"paddingOuter":0}}},
         "layer":[
          {"mark":{"type":"rect","fill":"#8a7f76","stroke":"#6f6862","strokeWidth":1}},
          {"mark":{"type":"text","fontSize":16,"fontWeight":"bold","fill":"#ffffff"},"encoding":{"text":{"field":"n","type":"nominal"}}}
         ]}
       ]}
     ]}
   ]}
 ]},
{"spacing":16.2,"resolve":{"scale":{"x":"independent","y":"independent","xOffset":"independent"}},
 "vconcat":[
  {"bounds":"flush","spacing":18.7,"resolve":{"scale":{"x":"independent","y":"independent","xOffset":"independent"}},
   "hconcat":[
    {"width":50,"height":680.9,"data":{"name":"fl"},
     "layer":[
      {"mark":{"type":"rule","stroke":"#a9a9a9","strokeWidth":1},"encoding":{"y":{"field":"f","type":"ordinal","bandPosition":0,"scale":{"domain":[29,28,27,26,25,24,23,22,21,20,19,18,17,16,15,14,13,12,11,10,9,8,7,6,5,4,3,2,1],"paddingInner":0,"paddingOuter":0}}}},
      {"transform":[{"filter":"datum.f==29"}],"mark":{"type":"rule","stroke":"#6e6e6e","strokeWidth":1.5},"encoding":{"y":{"field":"f","type":"ordinal","bandPosition":0,"scale":{"domain":[29,28,27,26,25,24,23,22,21,20,19,18,17,16,15,14,13,12,11,10,9,8,7,6,5,4,3,2,1],"paddingInner":0,"paddingOuter":0}}}},
      {"transform":[{"filter":"datum.f==1"}],"mark":{"type":"rule","stroke":"#6e6e6e","strokeWidth":1.5},"encoding":{"y":{"field":"f","type":"ordinal","bandPosition":1,"scale":{"domain":[29,28,27,26,25,24,23,22,21,20,19,18,17,16,15,14,13,12,11,10,9,8,7,6,5,4,3,2,1],"paddingInner":0,"paddingOuter":0}}}},
      {"mark":{"type":"text","fontSize":14,"fill":"#3a3a3a"},"encoding":{"y":{"field":"f","type":"ordinal","scale":{"domain":[29,28,27,26,25,24,23,22,21,20,19,18,17,16,15,14,13,12,11,10,9,8,7,6,5,4,3,2,1],"paddingInner":0,"paddingOuter":0}},"text":{"field":"n","type":"nominal"}}}
     ]},
    {"width":639.6,"height":680.9,"data":{"name":"u"},"transform":[{"filter":{"field":"b","oneOf":[108,109,110]}}],
     "encoding":{
      "x":{"field":"b","type":"ordinal","scale":{"domain":[108,109,110],"paddingInner":0.0954,"paddingOuter":0}},
      "xOffset":{"field":"l","type":"ordinal","scale":{"domain":[1,2,3,4],"paddingInner":0,"paddingOuter":0}},
      "y":{"field":"f","type":"ordinal","scale":{"domain":[29,28,27,26,25,24,23,22,21,20,19,18,17,16,15,14,13,12,11,10,9,8,7,6,5,4,3,2,1],"paddingInner":0,"paddingOuter":0}}},
     "layer":[
      {"mark":{"type":"rect","stroke":"#6b5a48","strokeOpacity":0.5,"strokeWidth":1},"encoding":{"fill":{"field":"t","type":"nominal","scale":{"domain":["84B","84A","74B","74C","99A","74D","74A","필로티"],"range":["#eea65e","#fddd92","#a8dbe7","#dde9a1","#d4a9c9","#a9c06c","#80aee0","#f5f5f5"]}}}},
      {"transform":[{"filter":"datum.f==1"}],"mark":{"type":"point","shape":"M-1,-0.4715L1,0.4715M-1,0.4715L1,-0.4715","size":2480,"filled":false,"stroke":"#8f8f8f","strokeWidth":1,"opacity":1}},
      {"mark":{"type":"text","fontSize":13.5,"fill":"#333333"},"encoding":{"text":{"field":"u","type":"nominal"}}}
     ]}
   ]},
  {"spacing":-1,"resolve":{"scale":{"x":"independent","y":"independent","xOffset":"independent"}},
   "vconcat":[
    {"bounds":"flush","spacing":18.7,"resolve":{"scale":{"x":"independent","y":"independent","xOffset":"independent"}},
     "hconcat":[
      {"width":50,"height":36,"data":{"values":[{"k":"t","n":"타입"},{"k":"h","n":"라인"}]},
       "encoding":{"y":{"field":"k","type":"nominal","scale":{"domain":["t","h"],"paddingInner":0,"paddingOuter":0}}},
       "layer":[
        {"mark":{"type":"rule","stroke":"#a9a9a9","strokeWidth":1},"encoding":{"y":{"field":"k","type":"nominal","bandPosition":0,"scale":{"domain":["t","h"],"paddingInner":0,"paddingOuter":0}}}},
        {"transform":[{"filter":"datum.k=='t'"}],"mark":{"type":"rule","stroke":"#6e6e6e","strokeWidth":1.5},"encoding":{"y":{"field":"k","type":"nominal","bandPosition":0,"scale":{"domain":["t","h"],"paddingInner":0,"paddingOuter":0}}}},
        {"mark":{"type":"text","fontSize":14,"fill":"#3a3a3a"},"encoding":{"text":{"field":"n","type":"nominal"}}}
       ]},
      {"width":639.6,"height":36,"data":{"name":"bt"},"transform":[{"filter":{"field":"b","oneOf":[108,109,110]}},{"fold":["t","h"],"as":["k","v"]}],
       "encoding":{
        "x":{"field":"b","type":"ordinal","scale":{"domain":[108,109,110],"paddingInner":0.0954,"paddingOuter":0}},
        "xOffset":{"field":"l","type":"ordinal","scale":{"domain":[1,2,3,4],"paddingInner":0,"paddingOuter":0}},
        "y":{"field":"k","type":"nominal","scale":{"domain":["t","h"],"paddingInner":0,"paddingOuter":0}}},
       "layer":[
        {"mark":{"type":"rect","stroke":"#6b5a48","strokeOpacity":0.5,"strokeWidth":1},"encoding":{"fill":{"field":"t","type":"nominal","scale":{"domain":["84B","84A","74B","74C","99A","74D","74A","필로티"],"range":["#eea65e","#fddd92","#a8dbe7","#dde9a1","#d4a9c9","#a9c06c","#80aee0","#f5f5f5"]}}}},
        {"mark":{"type":"text","fontSize":12.5,"fill":"#333333"},"encoding":{"text":{"field":"v","type":"nominal"}}}
       ]}
     ]},
    {"bounds":"flush","spacing":18.7,"resolve":{"scale":{"x":"independent","y":"independent","xOffset":"independent"}},
     "hconcat":[
      {"width":50,"height":29.6,"data":{"values":[{"n":"동"}]},
       "layer":[
        {"mark":{"type":"rule","stroke":"#a9a9a9","strokeWidth":1},"encoding":{"y":{"field":"n","type":"nominal","bandPosition":0,"scale":{"paddingInner":0,"paddingOuter":0}}}},
        {"mark":{"type":"rule","stroke":"#6e6e6e","strokeWidth":1.5},"encoding":{"y":{"field":"n","type":"nominal","bandPosition":1,"scale":{"paddingInner":0,"paddingOuter":0}}}},
        {"mark":{"type":"text","fontSize":14,"fill":"#3a3a3a"},"encoding":{"text":{"field":"n","type":"nominal"}}}
       ]},
      {"width":639.6,"height":29.6,"data":{"name":"bd"},"transform":[{"filter":{"field":"b","oneOf":[108,109,110]}}],
       "encoding":{"x":{"field":"b","type":"ordinal","scale":{"domain":[108,109,110],"paddingInner":0.0954,"paddingOuter":0}}},
       "layer":[
        {"mark":{"type":"rect","fill":"#8a7f76","stroke":"#6f6862","strokeWidth":1}},
        {"mark":{"type":"text","fontSize":16,"fontWeight":"bold","fill":"#ffffff"},"encoding":{"text":{"field":"n","type":"nominal"}}}
       ]}
     ]}
   ]}
 ]}
]
}
